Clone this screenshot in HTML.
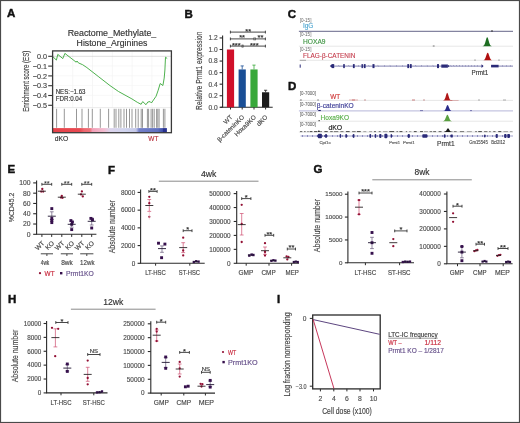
<!DOCTYPE html>
<html><head><meta charset="utf-8"><style>
html,body{margin:0;padding:0;background:#fff;}
svg{display:block;font-family:"Liberation Sans",sans-serif;will-change:transform;}
</style></head><body>
<svg width="520" height="423" viewBox="0 0 520 423">
<rect width="520" height="423" fill="#fff"/>
<rect x="0.5" y="0.5" width="519" height="422" fill="none" stroke="#4a4a4a" stroke-width="1.2"/>
<text x="7.00" y="17.00" font-size="11.5" fill="#111" stroke="#111" stroke-width="0.45" font-weight="bold">A</text>
<text x="112.00" y="36.00" font-size="8.7" fill="#333" stroke="#333" stroke-width="0.15" text-anchor="middle" textLength="88.60" lengthAdjust="spacingAndGlyphs">Reactome_Methylate_</text>
<text x="112.00" y="46.00" font-size="8.7" fill="#333" stroke="#333" stroke-width="0.15" text-anchor="middle" textLength="70.80" lengthAdjust="spacingAndGlyphs">Histone_Arginines</text>
<line x1="72.70" y1="51.50" x2="72.70" y2="107.50" stroke="#f0f0f0" stroke-width="0.6"/>
<line x1="92.50" y1="51.50" x2="92.50" y2="107.50" stroke="#f0f0f0" stroke-width="0.6"/>
<line x1="112.30" y1="51.50" x2="112.30" y2="107.50" stroke="#f0f0f0" stroke-width="0.6"/>
<line x1="132.10" y1="51.50" x2="132.10" y2="107.50" stroke="#f0f0f0" stroke-width="0.6"/>
<line x1="151.90" y1="51.50" x2="151.90" y2="107.50" stroke="#f0f0f0" stroke-width="0.6"/>
<line x1="53.00" y1="66.00" x2="171.00" y2="66.00" stroke="#f4f4f4" stroke-width="0.6"/>
<line x1="53.00" y1="75.80" x2="171.00" y2="75.80" stroke="#f4f4f4" stroke-width="0.6"/>
<line x1="53.00" y1="85.60" x2="171.00" y2="85.60" stroke="#f4f4f4" stroke-width="0.6"/>
<line x1="53.00" y1="95.40" x2="171.00" y2="95.40" stroke="#f4f4f4" stroke-width="0.6"/>
<line x1="53.00" y1="56.30" x2="171.00" y2="56.30" stroke="#c8c8c8" stroke-width="0.6"/>
<polyline points="52.60,56.40 56.40,60.10 57.80,54.40 62.80,58.60 64.90,53.40 76.20,62.20 77.00,61.00 78.40,62.90 82.60,64.70 86.90,67.60 98.20,76.40 110.00,85.60 118.50,91.50 131.90,98.90 137.30,102.30 141.10,104.30 142.70,101.60 146.00,104.70 147.80,102.00 150.10,101.60 151.40,103.00 156.10,96.20 158.20,90.20 160.20,83.50 162.90,85.50 164.20,78.10 164.90,70.00 165.50,57.20 167.20,58.50" fill="none" stroke="#3aa83a" stroke-width="0.9"/>
<line x1="48.20" y1="56.30" x2="52.60" y2="56.30" stroke="#333" stroke-width="1.1"/>
<text x="47.00" y="58.90" font-size="7.2" fill="#444" stroke="#444" stroke-width="0.15" text-anchor="end">0.0</text>
<line x1="48.20" y1="66.10" x2="52.60" y2="66.10" stroke="#333" stroke-width="1.1"/>
<text x="47.00" y="68.70" font-size="7.2" fill="#444" stroke="#444" stroke-width="0.15" text-anchor="end">−0.1</text>
<line x1="48.20" y1="75.90" x2="52.60" y2="75.90" stroke="#333" stroke-width="1.1"/>
<text x="47.00" y="78.50" font-size="7.2" fill="#444" stroke="#444" stroke-width="0.15" text-anchor="end">−0.2</text>
<line x1="48.20" y1="85.70" x2="52.60" y2="85.70" stroke="#333" stroke-width="1.1"/>
<text x="47.00" y="88.30" font-size="7.2" fill="#444" stroke="#444" stroke-width="0.15" text-anchor="end">−0.3</text>
<line x1="48.20" y1="95.50" x2="52.60" y2="95.50" stroke="#333" stroke-width="1.1"/>
<text x="47.00" y="98.10" font-size="7.2" fill="#444" stroke="#444" stroke-width="0.15" text-anchor="end">−0.4</text>
<line x1="48.20" y1="105.30" x2="52.60" y2="105.30" stroke="#333" stroke-width="1.1"/>
<text x="47.00" y="107.90" font-size="7.2" fill="#444" stroke="#444" stroke-width="0.15" text-anchor="end">−0.5</text>
<text x="28.60" y="81.30" font-size="8.6" fill="#444" stroke="#444" stroke-width="0.15" text-anchor="middle" textLength="61.00" lengthAdjust="spacingAndGlyphs" transform="rotate(-90 28.60 81.30)">Enrichment score (ES)</text>
<text x="55.70" y="93.70" font-size="6.9" fill="#333" stroke="#333" stroke-width="0.15" textLength="29.80" lengthAdjust="spacingAndGlyphs">NES:−1.63</text>
<text x="55.70" y="100.90" font-size="6.9" fill="#333" stroke="#333" stroke-width="0.15" textLength="26.50" lengthAdjust="spacingAndGlyphs">FDR:0.04</text>
<line x1="53.00" y1="107.60" x2="171.00" y2="107.60" stroke="#d8d8d8" stroke-width="0.5"/>
<line x1="56.60" y1="108.80" x2="56.60" y2="127.80" stroke="#6a6a6a" stroke-width="0.7"/>
<line x1="64.30" y1="108.80" x2="64.30" y2="127.80" stroke="#6a6a6a" stroke-width="0.7"/>
<line x1="76.50" y1="108.80" x2="76.50" y2="127.80" stroke="#6a6a6a" stroke-width="0.7"/>
<line x1="82.00" y1="108.80" x2="82.00" y2="127.80" stroke="#6a6a6a" stroke-width="0.7"/>
<line x1="88.40" y1="108.80" x2="88.40" y2="127.80" stroke="#6a6a6a" stroke-width="0.7"/>
<line x1="92.30" y1="108.80" x2="92.30" y2="127.80" stroke="#6a6a6a" stroke-width="0.7"/>
<line x1="100.30" y1="108.80" x2="100.30" y2="127.80" stroke="#6a6a6a" stroke-width="0.7"/>
<line x1="108.60" y1="108.80" x2="108.60" y2="127.80" stroke="#6a6a6a" stroke-width="0.7"/>
<line x1="114.20" y1="108.80" x2="114.20" y2="127.80" stroke="#6a6a6a" stroke-width="0.7"/>
<line x1="116.00" y1="108.80" x2="116.00" y2="127.80" stroke="#6a6a6a" stroke-width="0.7"/>
<line x1="118.80" y1="108.80" x2="118.80" y2="127.80" stroke="#6a6a6a" stroke-width="0.7"/>
<line x1="120.90" y1="108.80" x2="120.90" y2="127.80" stroke="#6a6a6a" stroke-width="0.7"/>
<line x1="124.00" y1="108.80" x2="124.00" y2="127.80" stroke="#6a6a6a" stroke-width="0.7"/>
<line x1="126.50" y1="108.80" x2="126.50" y2="127.80" stroke="#6a6a6a" stroke-width="0.7"/>
<line x1="129.50" y1="108.80" x2="129.50" y2="127.80" stroke="#6a6a6a" stroke-width="0.7"/>
<line x1="132.00" y1="108.80" x2="132.00" y2="127.80" stroke="#6a6a6a" stroke-width="0.7"/>
<line x1="135.70" y1="108.80" x2="135.70" y2="127.80" stroke="#6a6a6a" stroke-width="0.7"/>
<line x1="138.20" y1="108.80" x2="138.20" y2="127.80" stroke="#6a6a6a" stroke-width="0.7"/>
<line x1="141.20" y1="108.80" x2="141.20" y2="127.80" stroke="#6a6a6a" stroke-width="0.7"/>
<line x1="142.50" y1="108.80" x2="142.50" y2="127.80" stroke="#6a6a6a" stroke-width="0.7"/>
<line x1="147.40" y1="108.80" x2="147.40" y2="127.80" stroke="#6a6a6a" stroke-width="0.7"/>
<line x1="148.60" y1="108.80" x2="148.60" y2="127.80" stroke="#6a6a6a" stroke-width="0.7"/>
<line x1="151.10" y1="108.80" x2="151.10" y2="127.80" stroke="#6a6a6a" stroke-width="0.7"/>
<line x1="152.60" y1="108.80" x2="152.60" y2="127.80" stroke="#6a6a6a" stroke-width="0.7"/>
<line x1="154.20" y1="108.80" x2="154.20" y2="127.80" stroke="#6a6a6a" stroke-width="0.7"/>
<line x1="156.60" y1="108.80" x2="156.60" y2="127.80" stroke="#6a6a6a" stroke-width="0.7"/>
<line x1="157.80" y1="108.80" x2="157.80" y2="127.80" stroke="#6a6a6a" stroke-width="0.7"/>
<line x1="159.10" y1="108.80" x2="159.10" y2="127.80" stroke="#6a6a6a" stroke-width="0.7"/>
<line x1="163.40" y1="108.80" x2="163.40" y2="127.80" stroke="#6a6a6a" stroke-width="0.7"/>
<line x1="164.90" y1="108.80" x2="164.90" y2="127.80" stroke="#6a6a6a" stroke-width="0.7"/>
<defs><linearGradient id="gA" x1="0" x2="1" y1="0" y2="0"><stop offset="0.000" stop-color="#e6424a"/><stop offset="0.240" stop-color="#e84a52"/><stop offset="0.275" stop-color="#ec6870"/><stop offset="0.327" stop-color="#ee7078"/><stop offset="0.349" stop-color="#f2a0b8"/><stop offset="0.450" stop-color="#f2bcd0"/><stop offset="0.502" stop-color="#dcd4ec"/><stop offset="0.633" stop-color="#d0d4ee"/><stop offset="0.730" stop-color="#c4c8e8"/><stop offset="0.756" stop-color="#7480c8"/><stop offset="0.922" stop-color="#6070c0"/><stop offset="0.962" stop-color="#4050a8"/><stop offset="0.970" stop-color="#283090"/><stop offset="1.000" stop-color="#283090"/></linearGradient></defs>
<rect x="52.60" y="128.10" width="114.30" height="4.30" fill="url(#gA)"/>
<rect x="52.6" y="50.9" width="118.8" height="81.8" fill="none" stroke="#3a3a3a" stroke-width="1.3"/>
<text x="54.80" y="141.20" font-size="7.3" fill="#333" stroke="#333" stroke-width="0.15" textLength="13.50" lengthAdjust="spacingAndGlyphs">dKO</text>
<text x="148.30" y="141.20" font-size="7.3" fill="#b8303c" stroke="#b8303c" stroke-width="0.15" textLength="10.10" lengthAdjust="spacingAndGlyphs">WT</text>
<text x="184.60" y="17.70" font-size="11.5" fill="#111" stroke="#111" stroke-width="0.45" font-weight="bold">B</text>
<line x1="222.60" y1="35.50" x2="222.60" y2="107.30" stroke="#2a2a2a" stroke-width="1.1"/>
<line x1="219.60" y1="107.30" x2="222.60" y2="107.30" stroke="#2a2a2a" stroke-width="1.1"/>
<text x="217.60" y="109.68" font-size="6.6" fill="#4e4e4e" stroke="#4e4e4e" stroke-width="0.15" text-anchor="end">0.0</text>
<line x1="219.60" y1="95.74" x2="222.60" y2="95.74" stroke="#2a2a2a" stroke-width="1.1"/>
<text x="217.60" y="98.12" font-size="6.6" fill="#4e4e4e" stroke="#4e4e4e" stroke-width="0.15" text-anchor="end">0.2</text>
<line x1="219.60" y1="84.18" x2="222.60" y2="84.18" stroke="#2a2a2a" stroke-width="1.1"/>
<text x="217.60" y="86.56" font-size="6.6" fill="#4e4e4e" stroke="#4e4e4e" stroke-width="0.15" text-anchor="end">0.4</text>
<line x1="219.60" y1="72.62" x2="222.60" y2="72.62" stroke="#2a2a2a" stroke-width="1.1"/>
<text x="217.60" y="75.00" font-size="6.6" fill="#4e4e4e" stroke="#4e4e4e" stroke-width="0.15" text-anchor="end">0.6</text>
<line x1="219.60" y1="61.06" x2="222.60" y2="61.06" stroke="#2a2a2a" stroke-width="1.1"/>
<text x="217.60" y="63.44" font-size="6.6" fill="#4e4e4e" stroke="#4e4e4e" stroke-width="0.15" text-anchor="end">0.8</text>
<line x1="219.60" y1="49.50" x2="222.60" y2="49.50" stroke="#2a2a2a" stroke-width="1.1"/>
<text x="217.60" y="51.88" font-size="6.6" fill="#4e4e4e" stroke="#4e4e4e" stroke-width="0.15" text-anchor="end">1.0</text>
<line x1="219.60" y1="37.94" x2="222.60" y2="37.94" stroke="#2a2a2a" stroke-width="1.1"/>
<text x="217.60" y="40.32" font-size="6.6" fill="#4e4e4e" stroke="#4e4e4e" stroke-width="0.15" text-anchor="end">1.2</text>
<text x="202.00" y="70.70" font-size="8.2" fill="#444" stroke="#444" stroke-width="0.15" text-anchor="middle" textLength="78.50" lengthAdjust="spacingAndGlyphs" transform="rotate(-90 202.00 70.70)">Relative Prmt1 expression</text>
<line x1="220.50" y1="107.30" x2="272.70" y2="107.30" stroke="#2a2a2a" stroke-width="1.1"/>
<rect x="226.90" y="49.50" width="7.20" height="57.80" fill="#d0102a"/>
<line x1="230.50" y1="107.30" x2="230.50" y2="109.50" stroke="#2a2a2a" stroke-width="1"/>
<line x1="242.20" y1="65.92" x2="242.20" y2="69.44" stroke="#1a4f96" stroke-width="0.8"/>
<line x1="240.60" y1="65.92" x2="243.80" y2="65.92" stroke="#1a4f96" stroke-width="0.8"/>
<rect x="238.60" y="69.44" width="7.20" height="37.86" fill="#1a4f96"/>
<line x1="242.20" y1="107.30" x2="242.20" y2="109.50" stroke="#2a2a2a" stroke-width="1"/>
<line x1="254.00" y1="65.11" x2="254.00" y2="69.44" stroke="#38a83a" stroke-width="0.8"/>
<line x1="252.40" y1="65.11" x2="255.60" y2="65.11" stroke="#38a83a" stroke-width="0.8"/>
<rect x="250.40" y="69.44" width="7.20" height="37.86" fill="#38a83a"/>
<line x1="254.00" y1="107.30" x2="254.00" y2="109.50" stroke="#2a2a2a" stroke-width="1"/>
<line x1="265.60" y1="90.25" x2="265.60" y2="92.27" stroke="#1c1c1c" stroke-width="0.8"/>
<line x1="264.00" y1="90.25" x2="267.20" y2="90.25" stroke="#1c1c1c" stroke-width="0.8"/>
<rect x="262.00" y="92.27" width="7.20" height="15.03" fill="#1c1c1c"/>
<line x1="265.60" y1="107.30" x2="265.60" y2="109.50" stroke="#2a2a2a" stroke-width="1"/>
<line x1="230.40" y1="32.10" x2="265.40" y2="32.10" stroke="#333" stroke-width="0.9"/>
<line x1="230.40" y1="30.70" x2="230.40" y2="33.50" stroke="#333" stroke-width="0.9"/>
<line x1="265.40" y1="30.70" x2="265.40" y2="33.50" stroke="#333" stroke-width="0.9"/>
<text x="248.20" y="33.50" font-size="7.4" fill="#333" stroke="#333" stroke-width="0.05" text-anchor="middle" font-weight="bold">**</text>
<line x1="230.40" y1="38.90" x2="254.00" y2="38.90" stroke="#333" stroke-width="0.9"/>
<line x1="230.40" y1="37.50" x2="230.40" y2="40.30" stroke="#333" stroke-width="0.9"/>
<line x1="254.00" y1="37.50" x2="254.00" y2="40.30" stroke="#333" stroke-width="0.9"/>
<line x1="255.20" y1="38.90" x2="265.40" y2="38.90" stroke="#333" stroke-width="0.9"/>
<line x1="255.20" y1="37.50" x2="255.20" y2="40.30" stroke="#333" stroke-width="0.9"/>
<line x1="265.40" y1="37.50" x2="265.40" y2="40.30" stroke="#333" stroke-width="0.9"/>
<text x="242.10" y="40.30" font-size="7.4" fill="#333" stroke="#333" stroke-width="0.05" text-anchor="middle" font-weight="bold">**</text>
<text x="260.50" y="40.30" font-size="7.4" fill="#333" stroke="#333" stroke-width="0.05" text-anchor="middle" font-weight="bold">**</text>
<line x1="230.40" y1="46.10" x2="242.10" y2="46.10" stroke="#333" stroke-width="0.9"/>
<line x1="230.40" y1="44.70" x2="230.40" y2="47.50" stroke="#333" stroke-width="0.9"/>
<line x1="242.10" y1="44.70" x2="242.10" y2="47.50" stroke="#333" stroke-width="0.9"/>
<line x1="243.00" y1="46.10" x2="265.40" y2="46.10" stroke="#333" stroke-width="0.9"/>
<line x1="243.00" y1="44.70" x2="243.00" y2="47.50" stroke="#333" stroke-width="0.9"/>
<line x1="265.40" y1="44.70" x2="265.40" y2="47.50" stroke="#333" stroke-width="0.9"/>
<text x="236.20" y="47.50" font-size="7.4" fill="#333" stroke="#333" stroke-width="0.05" text-anchor="middle" font-weight="bold">***</text>
<text x="254.20" y="47.50" font-size="7.4" fill="#333" stroke="#333" stroke-width="0.05" text-anchor="middle" font-weight="bold">***</text>
<text x="232.90" y="117.50" font-size="6.3" fill="#444" stroke="#444" stroke-width="0.15" text-anchor="end" transform="rotate(-45 232.90 117.50)">WT</text>
<text x="244.60" y="117.50" font-size="6.3" fill="#444" stroke="#444" stroke-width="0.15" text-anchor="end" transform="rotate(-45 244.60 117.50)">β-cateninKO</text>
<text x="256.40" y="117.50" font-size="6.3" fill="#444" stroke="#444" stroke-width="0.15" text-anchor="end" transform="rotate(-45 256.40 117.50)">Hoxa9KO</text>
<text x="268.00" y="117.50" font-size="6.3" fill="#444" stroke="#444" stroke-width="0.15" text-anchor="end" transform="rotate(-45 268.00 117.50)">dKO</text>
<text x="287.80" y="17.60" font-size="11.5" fill="#111" stroke="#111" stroke-width="0.45" font-weight="bold">C</text>
<text x="299.80" y="21.60" font-size="4.7" fill="#666" textLength="11.60" lengthAdjust="spacingAndGlyphs">[0-15]</text>
<text x="302.90" y="28.30" font-size="6.4" fill="#4aa4d0" stroke="#4aa4d0" stroke-width="0.12" textLength="10.40" lengthAdjust="spacingAndGlyphs">IgG</text>
<line x1="298.90" y1="31.30" x2="513.00" y2="31.30" stroke="#55557a" stroke-width="0.9"/>
<text x="299.80" y="36.20" font-size="4.7" fill="#666" textLength="11.60" lengthAdjust="spacingAndGlyphs">[0-15]</text>
<text x="303.00" y="44.30" font-size="6.6" fill="#3a923e" stroke="#3a923e" stroke-width="0.12" textLength="22.50" lengthAdjust="spacingAndGlyphs">HOXA9</text>
<line x1="298.90" y1="46.20" x2="513.00" y2="46.20" stroke="#dcdcdc" stroke-width="0.7"/>
<text x="299.80" y="50.60" font-size="4.7" fill="#666" textLength="11.60" lengthAdjust="spacingAndGlyphs">[0-15]</text>
<text x="303.00" y="58.20" font-size="6.6" fill="#c43c4c" stroke="#c43c4c" stroke-width="0.12" textLength="52.40" lengthAdjust="spacingAndGlyphs">FLAG-β-CATENIN</text>
<line x1="298.90" y1="60.30" x2="513.00" y2="60.30" stroke="#dcdcdc" stroke-width="0.7"/>
<line x1="300.00" y1="60.30" x2="306.00" y2="60.30" stroke="#777" stroke-width="0.6"/>
<path d="M482.14,46.17 L482.56,46.13 L482.98,46.04 L483.40,45.86 L483.83,45.52 L484.25,44.95 L484.67,44.09 L485.09,42.92 L485.51,41.48 L485.94,39.94 L486.36,38.54 L486.78,37.56 L487.20,37.20 L487.62,37.56 L488.04,38.54 L488.46,39.94 L488.89,41.48 L489.31,42.92 L489.73,44.09 L490.15,44.95 L490.57,45.52 L491.00,45.86 L491.42,46.04 L491.84,46.13 L492.26,46.17 L492.26,46.20 L482.14,46.20 Z" fill="#1e6e22"/>
<path d="M482.64,60.28 L483.06,60.24 L483.48,60.17 L483.90,60.01 L484.33,59.72 L484.75,59.25 L485.17,58.52 L485.59,57.53 L486.01,56.31 L486.44,55.01 L486.86,53.83 L487.28,53.00 L487.70,52.70 L488.12,53.00 L488.54,53.83 L488.96,55.01 L489.39,56.31 L489.81,57.53 L490.23,58.52 L490.65,59.25 L491.07,59.72 L491.50,60.01 L491.92,60.17 L492.34,60.24 L492.76,60.28 L492.76,60.30 L482.64,60.30 Z" fill="#b01010"/>
<line x1="491.00" y1="31.00" x2="493.00" y2="31.00" stroke="#333" stroke-width="1"/>
<line x1="432.80" y1="46.00" x2="434.60" y2="46.00" stroke="#666" stroke-width="0.9"/>
<line x1="474.00" y1="60.10" x2="476.00" y2="60.10" stroke="#999" stroke-width="0.8"/>
<line x1="498.00" y1="60.10" x2="500.00" y2="60.10" stroke="#999" stroke-width="0.8"/>
<line x1="300.20" y1="64.50" x2="300.20" y2="67.70" stroke="#2a2a78" stroke-width="1"/>
<line x1="331.30" y1="66.10" x2="483.00" y2="66.10" stroke="#2a2a78" stroke-width="0.6"/>
<line x1="491.00" y1="66.10" x2="513.00" y2="66.10" stroke="#2a2a78" stroke-width="0.6"/>
<rect x="331.80" y="64.10" width="2.40" height="4.00" fill="#2a2a78"/>
<rect x="343.20" y="64.10" width="1.60" height="4.00" fill="#2a2a78"/>
<rect x="352.90" y="64.10" width="1.80" height="4.00" fill="#2a2a78"/>
<rect x="361.50" y="64.10" width="1.40" height="4.00" fill="#2a2a78"/>
<rect x="363.80" y="64.10" width="1.80" height="4.00" fill="#2a2a78"/>
<rect x="372.50" y="64.10" width="2.00" height="4.00" fill="#2a2a78"/>
<rect x="407.30" y="64.10" width="1.70" height="4.00" fill="#2a2a78"/>
<rect x="409.80" y="64.10" width="1.90" height="4.00" fill="#2a2a78"/>
<rect x="437.00" y="64.10" width="2.00" height="4.00" fill="#2a2a78"/>
<rect x="441.30" y="64.50" width="6.40" height="3.20" fill="#2a2a78"/>
<rect x="491.10" y="64.80" width="7.50" height="2.60" fill="#2a2a78"/>
<path d="M329.8,66.1 L332.2,64.1 L332.2,68.1 Z" fill="#2a2a78"/>
<path d="M447.5,64.5 L449.5,66.1 L447.5,67.69999999999999 Z" fill="#2a2a78"/>
<path d="M481.5,64.3 L483.6,66.1 L481.5,67.89999999999999 Z" fill="#2a2a78"/>
<line x1="338.50" y1="65.50" x2="339.30" y2="66.10" stroke="#2a2a78" stroke-width="0.5"/>
<line x1="348.50" y1="65.50" x2="349.30" y2="66.10" stroke="#2a2a78" stroke-width="0.5"/>
<line x1="358.00" y1="65.50" x2="358.80" y2="66.10" stroke="#2a2a78" stroke-width="0.5"/>
<line x1="368.50" y1="65.50" x2="369.30" y2="66.10" stroke="#2a2a78" stroke-width="0.5"/>
<line x1="377.70" y1="65.50" x2="378.50" y2="66.10" stroke="#2a2a78" stroke-width="0.5"/>
<line x1="384.00" y1="65.50" x2="384.80" y2="66.10" stroke="#2a2a78" stroke-width="0.5"/>
<line x1="389.80" y1="65.50" x2="390.60" y2="66.10" stroke="#2a2a78" stroke-width="0.5"/>
<line x1="396.00" y1="65.50" x2="396.80" y2="66.10" stroke="#2a2a78" stroke-width="0.5"/>
<line x1="402.00" y1="65.50" x2="402.80" y2="66.10" stroke="#2a2a78" stroke-width="0.5"/>
<line x1="415.40" y1="65.50" x2="416.20" y2="66.10" stroke="#2a2a78" stroke-width="0.5"/>
<line x1="421.10" y1="65.50" x2="421.90" y2="66.10" stroke="#2a2a78" stroke-width="0.5"/>
<line x1="426.90" y1="65.50" x2="427.70" y2="66.10" stroke="#2a2a78" stroke-width="0.5"/>
<line x1="432.70" y1="65.50" x2="433.50" y2="66.10" stroke="#2a2a78" stroke-width="0.5"/>
<line x1="450.60" y1="65.50" x2="451.40" y2="66.10" stroke="#2a2a78" stroke-width="0.5"/>
<line x1="453.40" y1="65.50" x2="454.20" y2="66.10" stroke="#2a2a78" stroke-width="0.5"/>
<line x1="456.30" y1="65.50" x2="457.10" y2="66.10" stroke="#2a2a78" stroke-width="0.5"/>
<line x1="459.20" y1="65.50" x2="460.00" y2="66.10" stroke="#2a2a78" stroke-width="0.5"/>
<line x1="462.00" y1="65.50" x2="462.80" y2="66.10" stroke="#2a2a78" stroke-width="0.5"/>
<line x1="465.00" y1="65.50" x2="465.80" y2="66.10" stroke="#2a2a78" stroke-width="0.5"/>
<line x1="468.00" y1="65.50" x2="468.80" y2="66.10" stroke="#2a2a78" stroke-width="0.5"/>
<line x1="471.00" y1="65.50" x2="471.80" y2="66.10" stroke="#2a2a78" stroke-width="0.5"/>
<line x1="474.00" y1="65.50" x2="474.80" y2="66.10" stroke="#2a2a78" stroke-width="0.5"/>
<line x1="477.00" y1="65.50" x2="477.80" y2="66.10" stroke="#2a2a78" stroke-width="0.5"/>
<line x1="494.00" y1="65.50" x2="494.80" y2="66.10" stroke="#2a2a78" stroke-width="0.5"/>
<line x1="502.00" y1="65.50" x2="502.80" y2="66.10" stroke="#2a2a78" stroke-width="0.5"/>
<line x1="506.00" y1="65.50" x2="506.80" y2="66.10" stroke="#2a2a78" stroke-width="0.5"/>
<line x1="510.00" y1="65.50" x2="510.80" y2="66.10" stroke="#2a2a78" stroke-width="0.5"/>
<text x="471.50" y="74.70" font-size="6.6" fill="#3a3a3a" stroke="#3a3a3a" stroke-width="0.15" textLength="16.80" lengthAdjust="spacingAndGlyphs">Prmt1</text>
<text x="288.00" y="89.80" font-size="11.5" fill="#111" stroke="#111" stroke-width="0.45" font-weight="bold">D</text>
<text x="299.80" y="95.30" font-size="4.6" fill="#666" stroke="#666" stroke-width="0.05" textLength="16.20" lengthAdjust="spacingAndGlyphs">[0-7000]</text>
<text x="299.80" y="105.70" font-size="4.6" fill="#666" stroke="#666" stroke-width="0.05" textLength="16.20" lengthAdjust="spacingAndGlyphs">[0-7000]</text>
<text x="299.80" y="115.60" font-size="4.6" fill="#666" stroke="#666" stroke-width="0.05" textLength="16.20" lengthAdjust="spacingAndGlyphs">[0-7000]</text>
<text x="299.80" y="126.20" font-size="4.6" fill="#666" stroke="#666" stroke-width="0.05" textLength="16.20" lengthAdjust="spacingAndGlyphs">[0-7000]</text>
<text x="330.20" y="99.10" font-size="6.6" fill="#d03a3a" stroke="#d03a3a" stroke-width="0.15" textLength="10.00" lengthAdjust="spacingAndGlyphs">WT</text>
<text x="316.80" y="108.00" font-size="6.6" fill="#3c3c96" stroke="#3c3c96" stroke-width="0.15" textLength="36.90" lengthAdjust="spacingAndGlyphs">β-cateninKO</text>
<text x="320.60" y="119.50" font-size="6.6" fill="#5ab04a" stroke="#5ab04a" stroke-width="0.15" textLength="28.40" lengthAdjust="spacingAndGlyphs">Hoxa9KO</text>
<text x="328.40" y="129.80" font-size="6.6" fill="#222" stroke="#222" stroke-width="0.15" textLength="13.80" lengthAdjust="spacingAndGlyphs">dKO</text>
<line x1="298.90" y1="100.40" x2="513.00" y2="100.40" stroke="#dcdcdc" stroke-width="0.7"/>
<line x1="298.90" y1="110.90" x2="513.00" y2="110.90" stroke="#9898c8" stroke-width="0.7"/>
<line x1="298.90" y1="121.20" x2="513.00" y2="121.20" stroke="#dcdcdc" stroke-width="0.7"/>
<line x1="298.90" y1="132.00" x2="513.00" y2="132.00" stroke="#d0d0d0" stroke-width="0.7"/>
<line x1="300.00" y1="100.00" x2="301.80" y2="100.00" stroke="#555" stroke-width="0.8"/>
<line x1="317.30" y1="100.00" x2="318.80" y2="100.00" stroke="#555" stroke-width="0.8"/>
<line x1="349.00" y1="100.00" x2="358.00" y2="100.00" stroke="#e0a0a0" stroke-width="0.8"/>
<line x1="352.00" y1="100.00" x2="355.00" y2="100.00" stroke="#c06060" stroke-width="0.8"/>
<line x1="364.00" y1="100.00" x2="366.00" y2="100.00" stroke="#c08080" stroke-width="0.8"/>
<line x1="412.00" y1="100.00" x2="415.00" y2="100.00" stroke="#c06060" stroke-width="0.8"/>
<line x1="423.00" y1="100.00" x2="425.00" y2="100.00" stroke="#c08080" stroke-width="0.8"/>
<line x1="478.00" y1="100.00" x2="480.00" y2="100.00" stroke="#999" stroke-width="0.8"/>
<line x1="503.00" y1="100.00" x2="506.00" y2="100.00" stroke="#999" stroke-width="0.8"/>
<line x1="318.30" y1="110.50" x2="320.80" y2="110.50" stroke="#20206a" stroke-width="1.1"/>
<line x1="420.00" y1="110.60" x2="423.00" y2="110.60" stroke="#6060a0" stroke-width="0.8"/>
<line x1="470.00" y1="110.60" x2="472.00" y2="110.60" stroke="#6060a0" stroke-width="0.8"/>
<line x1="318.50" y1="120.70" x2="319.80" y2="120.70" stroke="#222" stroke-width="1.0"/>
<line x1="300.00" y1="131.60" x2="302.30" y2="131.60" stroke="#555" stroke-width="0.9"/>
<line x1="304.28" y1="131.60" x2="305.48" y2="131.60" stroke="#333" stroke-width="0.9"/>
<line x1="307.39" y1="131.60" x2="308.62" y2="131.60" stroke="#555" stroke-width="0.9"/>
<line x1="309.72" y1="131.60" x2="312.45" y2="131.60" stroke="#333" stroke-width="0.9"/>
<line x1="314.05" y1="131.60" x2="317.26" y2="131.60" stroke="#333" stroke-width="0.9"/>
<line x1="320.32" y1="131.60" x2="321.82" y2="131.60" stroke="#555" stroke-width="0.9"/>
<line x1="324.39" y1="131.60" x2="327.73" y2="131.60" stroke="#333" stroke-width="0.9"/>
<line x1="330.17" y1="131.60" x2="332.76" y2="131.60" stroke="#555" stroke-width="0.9"/>
<line x1="333.87" y1="131.60" x2="338.31" y2="131.60" stroke="#666" stroke-width="0.9"/>
<line x1="340.35" y1="131.60" x2="343.52" y2="131.60" stroke="#666" stroke-width="0.9"/>
<line x1="345.92" y1="131.60" x2="349.65" y2="131.60" stroke="#333" stroke-width="0.9"/>
<line x1="352.10" y1="131.60" x2="355.66" y2="131.60" stroke="#666" stroke-width="0.9"/>
<line x1="356.90" y1="131.60" x2="360.75" y2="131.60" stroke="#333" stroke-width="0.9"/>
<line x1="363.30" y1="131.60" x2="366.28" y2="131.60" stroke="#999" stroke-width="0.9"/>
<line x1="369.22" y1="131.60" x2="372.09" y2="131.60" stroke="#999" stroke-width="0.9"/>
<line x1="373.99" y1="131.60" x2="375.98" y2="131.60" stroke="#555" stroke-width="0.9"/>
<line x1="378.73" y1="131.60" x2="380.71" y2="131.60" stroke="#666" stroke-width="0.9"/>
<line x1="383.02" y1="131.60" x2="387.52" y2="131.60" stroke="#999" stroke-width="0.9"/>
<line x1="389.24" y1="131.60" x2="394.16" y2="131.60" stroke="#333" stroke-width="0.9"/>
<line x1="396.44" y1="131.60" x2="398.10" y2="131.60" stroke="#666" stroke-width="0.9"/>
<line x1="399.48" y1="131.60" x2="402.44" y2="131.60" stroke="#333" stroke-width="0.9"/>
<line x1="405.84" y1="131.60" x2="407.15" y2="131.60" stroke="#666" stroke-width="0.9"/>
<line x1="409.00" y1="131.60" x2="411.40" y2="131.60" stroke="#999" stroke-width="0.9"/>
<line x1="413.85" y1="131.60" x2="416.68" y2="131.60" stroke="#333" stroke-width="0.9"/>
<line x1="420.04" y1="131.60" x2="422.94" y2="131.60" stroke="#333" stroke-width="0.9"/>
<line x1="424.09" y1="131.60" x2="427.89" y2="131.60" stroke="#999" stroke-width="0.9"/>
<line x1="429.61" y1="131.60" x2="432.15" y2="131.60" stroke="#666" stroke-width="0.9"/>
<line x1="433.21" y1="131.60" x2="436.05" y2="131.60" stroke="#555" stroke-width="0.9"/>
<line x1="438.58" y1="131.60" x2="441.55" y2="131.60" stroke="#555" stroke-width="0.9"/>
<line x1="444.47" y1="131.60" x2="445.99" y2="131.60" stroke="#555" stroke-width="0.9"/>
<line x1="447.99" y1="131.60" x2="452.65" y2="131.60" stroke="#999" stroke-width="0.9"/>
<line x1="453.86" y1="131.60" x2="456.65" y2="131.60" stroke="#666" stroke-width="0.9"/>
<line x1="459.86" y1="131.60" x2="464.14" y2="131.60" stroke="#666" stroke-width="0.9"/>
<line x1="466.90" y1="131.60" x2="471.85" y2="131.60" stroke="#999" stroke-width="0.9"/>
<line x1="475.24" y1="131.60" x2="476.85" y2="131.60" stroke="#555" stroke-width="0.9"/>
<line x1="478.23" y1="131.60" x2="481.86" y2="131.60" stroke="#333" stroke-width="0.9"/>
<line x1="484.07" y1="131.60" x2="487.43" y2="131.60" stroke="#666" stroke-width="0.9"/>
<line x1="489.13" y1="131.60" x2="490.72" y2="131.60" stroke="#666" stroke-width="0.9"/>
<line x1="493.24" y1="131.60" x2="495.52" y2="131.60" stroke="#555" stroke-width="0.9"/>
<line x1="498.24" y1="131.60" x2="501.30" y2="131.60" stroke="#333" stroke-width="0.9"/>
<line x1="503.45" y1="131.60" x2="507.93" y2="131.60" stroke="#999" stroke-width="0.9"/>
<line x1="509.92" y1="131.60" x2="512.50" y2="131.60" stroke="#999" stroke-width="0.9"/>
<path d="M442.80,100.38 L443.46,100.28 L444.12,99.96 L444.78,99.08 L445.43,97.38 L446.09,95.07 L446.75,93.15 L447.41,92.80 L448.07,94.25 L448.73,96.57 L449.38,98.56 L450.04,99.72 L450.70,100.00 L451.36,100.06 L452.02,100.11 L452.68,100.15 L453.33,100.19 L453.99,100.22 L454.65,100.24 L455.31,100.27 L455.97,100.29 L456.62,100.30 L457.28,100.32 L457.94,100.33 L458.60,100.34 L458.60,100.40 L442.80,100.40 Z" fill="#b01818"/>
<path d="M442.98,110.98 L443.45,110.94 L443.92,110.85 L444.38,110.64 L444.85,110.23 L445.32,109.54 L445.79,108.54 L446.26,107.32 L446.73,106.12 L447.19,105.26 L447.66,105.01 L448.13,105.44 L448.60,106.43 L449.07,107.66 L449.54,108.84 L450.00,109.76 L450.47,110.37 L450.94,110.71 L451.41,110.88 L451.88,110.96 L452.35,110.99 L452.81,110.99 L453.28,110.99 L453.75,111.00 L454.22,111.00 L454.22,111.00 L442.98,111.00 Z" fill="#2a2a8a"/>
<path d="M442.34,121.18 L442.76,121.15 L443.18,121.09 L443.60,120.96 L444.03,120.72 L444.45,120.31 L444.87,119.70 L445.29,118.87 L445.71,117.84 L446.13,116.75 L446.56,115.75 L446.98,115.05 L447.40,114.80 L447.82,115.05 L448.24,115.75 L448.66,116.75 L449.09,117.84 L449.51,118.87 L449.93,119.70 L450.35,120.31 L450.77,120.72 L451.19,120.96 L451.62,121.09 L452.04,121.15 L452.46,121.18 L452.46,121.20 L442.34,121.20 Z" fill="#5aa040"/>
<path d="M443.60,131.99 L443.97,131.97 L444.33,131.93 L444.70,131.86 L445.07,131.72 L445.43,131.49 L445.80,131.13 L446.17,130.65 L446.53,130.06 L446.90,129.43 L447.27,128.85 L447.63,128.45 L448.00,128.30 L448.37,128.45 L448.73,128.85 L449.10,129.43 L449.47,130.06 L449.83,130.65 L450.20,131.13 L450.57,131.49 L450.93,131.72 L451.30,131.86 L451.67,131.93 L452.03,131.97 L452.40,131.99 L452.40,132.00 L443.60,132.00 Z" fill="#1a1a1a"/>
<path d="M316.92,131.99 L317.08,131.99 L317.25,131.97 L317.41,131.94 L317.58,131.87 L317.74,131.76 L317.91,131.60 L318.07,131.38 L318.24,131.11 L318.40,130.82 L318.57,130.55 L318.73,130.37 L318.90,130.30 L319.06,130.37 L319.23,130.55 L319.39,130.82 L319.56,131.11 L319.72,131.38 L319.89,131.60 L320.05,131.76 L320.22,131.87 L320.38,131.94 L320.55,131.97 L320.71,131.99 L320.88,131.99 L320.88,132.00 L316.92,132.00 Z" fill="#222"/>
<line x1="300.60" y1="136.00" x2="513.00" y2="136.00" stroke="#7a7ab8" stroke-width="0.7"/>
<rect x="318.00" y="133.70" width="3.90" height="4.60" rx="0.8" fill="#2a2a78"/>
<rect x="325.20" y="134.10" width="1.80" height="3.80" rx="0.8" fill="#2a2a78"/>
<rect x="339.60" y="134.10" width="1.60" height="3.80" rx="0.8" fill="#2a2a78"/>
<rect x="345.30" y="134.10" width="1.70" height="3.80" rx="0.8" fill="#2a2a78"/>
<rect x="352.70" y="134.10" width="1.80" height="3.80" rx="0.8" fill="#2a2a78"/>
<rect x="369.40" y="134.10" width="1.80" height="3.80" rx="0.8" fill="#2a2a78"/>
<rect x="374.60" y="134.10" width="1.70" height="3.80" rx="0.8" fill="#2a2a78"/>
<rect x="379.20" y="134.10" width="2.30" height="3.80" rx="0.8" fill="#2a2a78"/>
<rect x="384.40" y="133.80" width="2.90" height="4.40" rx="0.8" fill="#2a2a78"/>
<rect x="390.60" y="134.10" width="1.40" height="3.80" rx="0.8" fill="#2a2a78"/>
<rect x="407.70" y="134.10" width="2.20" height="3.80" rx="0.8" fill="#2a2a78"/>
<rect x="422.30" y="134.20" width="5.10" height="3.60" rx="0.8" fill="#2a2a78"/>
<rect x="443.80" y="134.20" width="1.80" height="3.60" rx="0.8" fill="#2a2a78"/>
<rect x="450.40" y="134.40" width="2.60" height="3.20" rx="0.8" fill="#2a2a78"/>
<rect x="484.00" y="134.40" width="1.60" height="3.20" rx="0.8" fill="#2a2a78"/>
<rect x="495.60" y="134.10" width="2.30" height="3.80" rx="0.8" fill="#2a2a78"/>
<rect x="504.10" y="134.10" width="2.50" height="3.80" rx="0.8" fill="#2a2a78"/>
<rect x="507.20" y="134.10" width="2.80" height="3.80" rx="0.8" fill="#2a2a78"/>
<path d="M316.6,136.0 L318.6,133.8 L318.6,138.2 Z" fill="#2a2a78"/>
<path d="M323.8,136.0 L325.6,134.2 L325.6,137.8 Z" fill="#2a2a78"/>
<line x1="302.00" y1="136.00" x2="303.00" y2="135.10" stroke="#5a5aa0" stroke-width="0.6"/>
<line x1="302.00" y1="136.00" x2="303.00" y2="136.90" stroke="#5a5aa0" stroke-width="0.6"/>
<line x1="307.00" y1="136.00" x2="308.00" y2="135.10" stroke="#5a5aa0" stroke-width="0.6"/>
<line x1="307.00" y1="136.00" x2="308.00" y2="136.90" stroke="#5a5aa0" stroke-width="0.6"/>
<line x1="312.00" y1="136.00" x2="313.00" y2="135.10" stroke="#5a5aa0" stroke-width="0.6"/>
<line x1="312.00" y1="136.00" x2="313.00" y2="136.90" stroke="#5a5aa0" stroke-width="0.6"/>
<line x1="317.00" y1="136.00" x2="318.00" y2="135.10" stroke="#5a5aa0" stroke-width="0.6"/>
<line x1="317.00" y1="136.00" x2="318.00" y2="136.90" stroke="#5a5aa0" stroke-width="0.6"/>
<line x1="322.00" y1="136.00" x2="323.00" y2="135.10" stroke="#5a5aa0" stroke-width="0.6"/>
<line x1="322.00" y1="136.00" x2="323.00" y2="136.90" stroke="#5a5aa0" stroke-width="0.6"/>
<line x1="327.00" y1="136.00" x2="328.00" y2="135.10" stroke="#5a5aa0" stroke-width="0.6"/>
<line x1="327.00" y1="136.00" x2="328.00" y2="136.90" stroke="#5a5aa0" stroke-width="0.6"/>
<line x1="332.00" y1="136.00" x2="333.00" y2="135.10" stroke="#5a5aa0" stroke-width="0.6"/>
<line x1="332.00" y1="136.00" x2="333.00" y2="136.90" stroke="#5a5aa0" stroke-width="0.6"/>
<line x1="337.00" y1="136.00" x2="338.00" y2="135.10" stroke="#5a5aa0" stroke-width="0.6"/>
<line x1="337.00" y1="136.00" x2="338.00" y2="136.90" stroke="#5a5aa0" stroke-width="0.6"/>
<line x1="342.00" y1="136.00" x2="343.00" y2="135.10" stroke="#5a5aa0" stroke-width="0.6"/>
<line x1="342.00" y1="136.00" x2="343.00" y2="136.90" stroke="#5a5aa0" stroke-width="0.6"/>
<line x1="347.00" y1="136.00" x2="348.00" y2="135.10" stroke="#5a5aa0" stroke-width="0.6"/>
<line x1="347.00" y1="136.00" x2="348.00" y2="136.90" stroke="#5a5aa0" stroke-width="0.6"/>
<line x1="352.00" y1="136.00" x2="353.00" y2="135.10" stroke="#5a5aa0" stroke-width="0.6"/>
<line x1="352.00" y1="136.00" x2="353.00" y2="136.90" stroke="#5a5aa0" stroke-width="0.6"/>
<line x1="357.00" y1="136.00" x2="358.00" y2="135.10" stroke="#5a5aa0" stroke-width="0.6"/>
<line x1="357.00" y1="136.00" x2="358.00" y2="136.90" stroke="#5a5aa0" stroke-width="0.6"/>
<line x1="362.00" y1="136.00" x2="363.00" y2="135.10" stroke="#5a5aa0" stroke-width="0.6"/>
<line x1="362.00" y1="136.00" x2="363.00" y2="136.90" stroke="#5a5aa0" stroke-width="0.6"/>
<line x1="367.00" y1="136.00" x2="368.00" y2="135.10" stroke="#5a5aa0" stroke-width="0.6"/>
<line x1="367.00" y1="136.00" x2="368.00" y2="136.90" stroke="#5a5aa0" stroke-width="0.6"/>
<line x1="372.00" y1="136.00" x2="373.00" y2="135.10" stroke="#5a5aa0" stroke-width="0.6"/>
<line x1="372.00" y1="136.00" x2="373.00" y2="136.90" stroke="#5a5aa0" stroke-width="0.6"/>
<line x1="377.00" y1="136.00" x2="378.00" y2="135.10" stroke="#5a5aa0" stroke-width="0.6"/>
<line x1="377.00" y1="136.00" x2="378.00" y2="136.90" stroke="#5a5aa0" stroke-width="0.6"/>
<line x1="382.00" y1="136.00" x2="383.00" y2="135.10" stroke="#5a5aa0" stroke-width="0.6"/>
<line x1="382.00" y1="136.00" x2="383.00" y2="136.90" stroke="#5a5aa0" stroke-width="0.6"/>
<line x1="387.00" y1="136.00" x2="388.00" y2="135.10" stroke="#5a5aa0" stroke-width="0.6"/>
<line x1="387.00" y1="136.00" x2="388.00" y2="136.90" stroke="#5a5aa0" stroke-width="0.6"/>
<line x1="392.00" y1="136.00" x2="393.00" y2="135.10" stroke="#5a5aa0" stroke-width="0.6"/>
<line x1="392.00" y1="136.00" x2="393.00" y2="136.90" stroke="#5a5aa0" stroke-width="0.6"/>
<line x1="397.00" y1="136.00" x2="398.00" y2="135.10" stroke="#5a5aa0" stroke-width="0.6"/>
<line x1="397.00" y1="136.00" x2="398.00" y2="136.90" stroke="#5a5aa0" stroke-width="0.6"/>
<line x1="402.00" y1="136.00" x2="403.00" y2="135.10" stroke="#5a5aa0" stroke-width="0.6"/>
<line x1="402.00" y1="136.00" x2="403.00" y2="136.90" stroke="#5a5aa0" stroke-width="0.6"/>
<line x1="407.00" y1="136.00" x2="408.00" y2="135.10" stroke="#5a5aa0" stroke-width="0.6"/>
<line x1="407.00" y1="136.00" x2="408.00" y2="136.90" stroke="#5a5aa0" stroke-width="0.6"/>
<line x1="412.00" y1="136.00" x2="413.00" y2="135.10" stroke="#5a5aa0" stroke-width="0.6"/>
<line x1="412.00" y1="136.00" x2="413.00" y2="136.90" stroke="#5a5aa0" stroke-width="0.6"/>
<line x1="417.00" y1="136.00" x2="418.00" y2="135.10" stroke="#5a5aa0" stroke-width="0.6"/>
<line x1="417.00" y1="136.00" x2="418.00" y2="136.90" stroke="#5a5aa0" stroke-width="0.6"/>
<line x1="422.00" y1="136.00" x2="423.00" y2="135.10" stroke="#5a5aa0" stroke-width="0.6"/>
<line x1="422.00" y1="136.00" x2="423.00" y2="136.90" stroke="#5a5aa0" stroke-width="0.6"/>
<line x1="427.00" y1="136.00" x2="428.00" y2="135.10" stroke="#5a5aa0" stroke-width="0.6"/>
<line x1="427.00" y1="136.00" x2="428.00" y2="136.90" stroke="#5a5aa0" stroke-width="0.6"/>
<line x1="432.00" y1="136.00" x2="433.00" y2="135.10" stroke="#5a5aa0" stroke-width="0.6"/>
<line x1="432.00" y1="136.00" x2="433.00" y2="136.90" stroke="#5a5aa0" stroke-width="0.6"/>
<line x1="437.00" y1="136.00" x2="438.00" y2="135.10" stroke="#5a5aa0" stroke-width="0.6"/>
<line x1="437.00" y1="136.00" x2="438.00" y2="136.90" stroke="#5a5aa0" stroke-width="0.6"/>
<line x1="442.00" y1="136.00" x2="443.00" y2="135.10" stroke="#5a5aa0" stroke-width="0.6"/>
<line x1="442.00" y1="136.00" x2="443.00" y2="136.90" stroke="#5a5aa0" stroke-width="0.6"/>
<line x1="447.00" y1="136.00" x2="448.00" y2="135.10" stroke="#5a5aa0" stroke-width="0.6"/>
<line x1="447.00" y1="136.00" x2="448.00" y2="136.90" stroke="#5a5aa0" stroke-width="0.6"/>
<line x1="452.00" y1="136.00" x2="453.00" y2="135.10" stroke="#5a5aa0" stroke-width="0.6"/>
<line x1="452.00" y1="136.00" x2="453.00" y2="136.90" stroke="#5a5aa0" stroke-width="0.6"/>
<line x1="457.00" y1="136.00" x2="458.00" y2="135.10" stroke="#5a5aa0" stroke-width="0.6"/>
<line x1="457.00" y1="136.00" x2="458.00" y2="136.90" stroke="#5a5aa0" stroke-width="0.6"/>
<line x1="462.00" y1="136.00" x2="463.00" y2="135.10" stroke="#5a5aa0" stroke-width="0.6"/>
<line x1="462.00" y1="136.00" x2="463.00" y2="136.90" stroke="#5a5aa0" stroke-width="0.6"/>
<line x1="467.00" y1="136.00" x2="468.00" y2="135.10" stroke="#5a5aa0" stroke-width="0.6"/>
<line x1="467.00" y1="136.00" x2="468.00" y2="136.90" stroke="#5a5aa0" stroke-width="0.6"/>
<line x1="472.00" y1="136.00" x2="473.00" y2="135.10" stroke="#5a5aa0" stroke-width="0.6"/>
<line x1="472.00" y1="136.00" x2="473.00" y2="136.90" stroke="#5a5aa0" stroke-width="0.6"/>
<line x1="477.00" y1="136.00" x2="478.00" y2="135.10" stroke="#5a5aa0" stroke-width="0.6"/>
<line x1="477.00" y1="136.00" x2="478.00" y2="136.90" stroke="#5a5aa0" stroke-width="0.6"/>
<line x1="482.00" y1="136.00" x2="483.00" y2="135.10" stroke="#5a5aa0" stroke-width="0.6"/>
<line x1="482.00" y1="136.00" x2="483.00" y2="136.90" stroke="#5a5aa0" stroke-width="0.6"/>
<line x1="487.00" y1="136.00" x2="488.00" y2="135.10" stroke="#5a5aa0" stroke-width="0.6"/>
<line x1="487.00" y1="136.00" x2="488.00" y2="136.90" stroke="#5a5aa0" stroke-width="0.6"/>
<line x1="492.00" y1="136.00" x2="493.00" y2="135.10" stroke="#5a5aa0" stroke-width="0.6"/>
<line x1="492.00" y1="136.00" x2="493.00" y2="136.90" stroke="#5a5aa0" stroke-width="0.6"/>
<line x1="497.00" y1="136.00" x2="498.00" y2="135.10" stroke="#5a5aa0" stroke-width="0.6"/>
<line x1="497.00" y1="136.00" x2="498.00" y2="136.90" stroke="#5a5aa0" stroke-width="0.6"/>
<line x1="502.00" y1="136.00" x2="503.00" y2="135.10" stroke="#5a5aa0" stroke-width="0.6"/>
<line x1="502.00" y1="136.00" x2="503.00" y2="136.90" stroke="#5a5aa0" stroke-width="0.6"/>
<line x1="507.00" y1="136.00" x2="508.00" y2="135.10" stroke="#5a5aa0" stroke-width="0.6"/>
<line x1="507.00" y1="136.00" x2="508.00" y2="136.90" stroke="#5a5aa0" stroke-width="0.6"/>
<text x="319.40" y="143.80" font-size="4.4" fill="#555" stroke="#555" stroke-width="0.15" textLength="11.20" lengthAdjust="spacingAndGlyphs">Cpt1c</text>
<text x="389.20" y="143.80" font-size="4.4" fill="#555" stroke="#555" stroke-width="0.15" textLength="10.80" lengthAdjust="spacingAndGlyphs">Prmt1</text>
<text x="403.00" y="143.80" font-size="4.4" fill="#555" stroke="#555" stroke-width="0.15" textLength="11.60" lengthAdjust="spacingAndGlyphs">Prmt1</text>
<text x="437.00" y="146.00" font-size="7.0" fill="#3a3a3a" stroke="#3a3a3a" stroke-width="0.15" textLength="17.60" lengthAdjust="spacingAndGlyphs">Prmt1</text>
<text x="469.20" y="143.80" font-size="4.6" fill="#555" stroke="#555" stroke-width="0.15" textLength="18.60" lengthAdjust="spacingAndGlyphs">Gm15545</text>
<text x="491.20" y="143.80" font-size="4.6" fill="#555" stroke="#555" stroke-width="0.15" textLength="14.00" lengthAdjust="spacingAndGlyphs">Bcl2l12</text>
<text x="7.60" y="172.60" font-size="11.5" fill="#111" stroke="#111" stroke-width="0.45" font-weight="bold">E</text>
<line x1="36.60" y1="180.40" x2="36.60" y2="234.30" stroke="#2a2a2a" stroke-width="1.1"/>
<line x1="33.20" y1="234.30" x2="36.60" y2="234.30" stroke="#2a2a2a" stroke-width="1.1"/>
<text x="30.60" y="236.75" font-size="6.8" fill="#4e4e4e" stroke="#4e4e4e" stroke-width="0.15" text-anchor="end">0</text>
<line x1="33.20" y1="224.02" x2="36.60" y2="224.02" stroke="#2a2a2a" stroke-width="1.1"/>
<text x="30.60" y="226.47" font-size="6.8" fill="#4e4e4e" stroke="#4e4e4e" stroke-width="0.15" text-anchor="end">20</text>
<line x1="33.20" y1="213.74" x2="36.60" y2="213.74" stroke="#2a2a2a" stroke-width="1.1"/>
<text x="30.60" y="216.19" font-size="6.8" fill="#4e4e4e" stroke="#4e4e4e" stroke-width="0.15" text-anchor="end">40</text>
<line x1="33.20" y1="203.46" x2="36.60" y2="203.46" stroke="#2a2a2a" stroke-width="1.1"/>
<text x="30.60" y="205.91" font-size="6.8" fill="#4e4e4e" stroke="#4e4e4e" stroke-width="0.15" text-anchor="end">60</text>
<line x1="33.20" y1="193.18" x2="36.60" y2="193.18" stroke="#2a2a2a" stroke-width="1.1"/>
<text x="30.60" y="195.63" font-size="6.8" fill="#4e4e4e" stroke="#4e4e4e" stroke-width="0.15" text-anchor="end">80</text>
<line x1="33.20" y1="182.90" x2="36.60" y2="182.90" stroke="#2a2a2a" stroke-width="1.1"/>
<text x="30.60" y="185.35" font-size="6.8" fill="#4e4e4e" stroke="#4e4e4e" stroke-width="0.15" text-anchor="end">100</text>
<line x1="36.00" y1="234.30" x2="96.40" y2="234.30" stroke="#2a2a2a" stroke-width="1.1"/>
<line x1="41.90" y1="234.30" x2="41.90" y2="236.90" stroke="#2a2a2a" stroke-width="1"/>
<line x1="51.70" y1="234.30" x2="51.70" y2="236.90" stroke="#2a2a2a" stroke-width="1"/>
<line x1="61.80" y1="234.30" x2="61.80" y2="236.90" stroke="#2a2a2a" stroke-width="1"/>
<line x1="71.70" y1="234.30" x2="71.70" y2="236.90" stroke="#2a2a2a" stroke-width="1"/>
<line x1="81.80" y1="234.30" x2="81.80" y2="236.90" stroke="#2a2a2a" stroke-width="1"/>
<line x1="91.70" y1="234.30" x2="91.70" y2="236.90" stroke="#2a2a2a" stroke-width="1"/>
<text x="14.40" y="207.50" font-size="8.0" fill="#444" stroke="#444" stroke-width="0.15" text-anchor="middle" textLength="29.50" lengthAdjust="spacingAndGlyphs" transform="rotate(-90 14.40 207.50)">%CD45.2</text>
<line x1="41.90" y1="184.30" x2="51.70" y2="184.30" stroke="#333" stroke-width="0.9"/>
<line x1="41.90" y1="182.90" x2="41.90" y2="185.70" stroke="#333" stroke-width="0.9"/>
<line x1="51.70" y1="182.90" x2="51.70" y2="185.70" stroke="#333" stroke-width="0.9"/>
<text x="46.80" y="185.70" font-size="7.4" fill="#333" stroke="#333" stroke-width="0.05" text-anchor="middle">**</text>
<line x1="61.80" y1="184.30" x2="71.70" y2="184.30" stroke="#333" stroke-width="0.9"/>
<line x1="61.80" y1="182.90" x2="61.80" y2="185.70" stroke="#333" stroke-width="0.9"/>
<line x1="71.70" y1="182.90" x2="71.70" y2="185.70" stroke="#333" stroke-width="0.9"/>
<text x="66.75" y="185.70" font-size="7.4" fill="#333" stroke="#333" stroke-width="0.05" text-anchor="middle">**</text>
<line x1="81.80" y1="184.30" x2="91.70" y2="184.30" stroke="#333" stroke-width="0.9"/>
<line x1="81.80" y1="182.90" x2="81.80" y2="185.70" stroke="#333" stroke-width="0.9"/>
<line x1="91.70" y1="182.90" x2="91.70" y2="185.70" stroke="#333" stroke-width="0.9"/>
<text x="86.75" y="185.70" font-size="7.4" fill="#333" stroke="#333" stroke-width="0.05" text-anchor="middle">**</text>
<circle cx="42.30" cy="189.00" r="1.15" fill="#921034"/>
<circle cx="41.20" cy="191.60" r="1.15" fill="#921034"/>
<circle cx="43.20" cy="191.60" r="1.15" fill="#921034"/>
<line x1="37.90" y1="191.20" x2="45.90" y2="191.20" stroke="#2a2226" stroke-width="0.9"/>
<line x1="51.80" y1="211.80" x2="51.80" y2="219.60" stroke="#665878" stroke-width="0.7"/>
<line x1="49.90" y1="211.80" x2="53.70" y2="211.80" stroke="#665878" stroke-width="0.7"/>
<line x1="49.90" y1="219.60" x2="53.70" y2="219.60" stroke="#665878" stroke-width="0.7"/>
<rect x="50.35" y="207.15" width="2.90" height="2.90" fill="#36104c"/>
<rect x="50.35" y="217.05" width="2.90" height="2.90" fill="#36104c"/>
<rect x="50.35" y="219.15" width="2.90" height="2.90" fill="#36104c"/>
<rect x="50.35" y="221.15" width="2.90" height="2.90" fill="#36104c"/>
<line x1="47.80" y1="216.20" x2="55.80" y2="216.20" stroke="#1e1430" stroke-width="0.9"/>
<circle cx="61.80" cy="196.00" r="1.15" fill="#921034"/>
<circle cx="61.00" cy="197.60" r="1.15" fill="#921034"/>
<circle cx="62.60" cy="197.80" r="1.15" fill="#921034"/>
<line x1="57.80" y1="197.20" x2="65.80" y2="197.20" stroke="#2a2226" stroke-width="0.9"/>
<line x1="71.70" y1="221.40" x2="71.70" y2="227.20" stroke="#665878" stroke-width="0.7"/>
<line x1="69.80" y1="221.40" x2="73.60" y2="221.40" stroke="#665878" stroke-width="0.7"/>
<line x1="69.80" y1="227.20" x2="73.60" y2="227.20" stroke="#665878" stroke-width="0.7"/>
<rect x="69.45" y="219.15" width="2.90" height="2.90" fill="#36104c"/>
<rect x="70.95" y="220.55" width="2.90" height="2.90" fill="#36104c"/>
<rect x="70.25" y="222.85" width="2.90" height="2.90" fill="#36104c"/>
<rect x="70.25" y="228.15" width="2.90" height="2.90" fill="#36104c"/>
<line x1="67.70" y1="224.30" x2="75.70" y2="224.30" stroke="#1e1430" stroke-width="0.9"/>
<circle cx="81.90" cy="191.40" r="1.15" fill="#921034"/>
<circle cx="81.00" cy="194.40" r="1.15" fill="#921034"/>
<circle cx="82.80" cy="196.40" r="1.15" fill="#921034"/>
<line x1="77.80" y1="194.20" x2="85.80" y2="194.20" stroke="#2a2226" stroke-width="0.9"/>
<line x1="91.70" y1="218.00" x2="91.70" y2="225.00" stroke="#665878" stroke-width="0.7"/>
<line x1="89.80" y1="218.00" x2="93.60" y2="218.00" stroke="#665878" stroke-width="0.7"/>
<line x1="89.80" y1="225.00" x2="93.60" y2="225.00" stroke="#665878" stroke-width="0.7"/>
<rect x="89.45" y="216.95" width="2.90" height="2.90" fill="#36104c"/>
<rect x="91.05" y="218.15" width="2.90" height="2.90" fill="#36104c"/>
<rect x="90.25" y="226.55" width="2.90" height="2.90" fill="#36104c"/>
<line x1="87.70" y1="221.30" x2="95.70" y2="221.30" stroke="#1e1430" stroke-width="0.9"/>
<text x="44.90" y="243.60" font-size="6.6" fill="#444" stroke="#444" stroke-width="0.15" text-anchor="end" transform="rotate(-45 44.90 243.60)">WT</text>
<text x="54.70" y="243.60" font-size="6.6" fill="#444" stroke="#444" stroke-width="0.15" text-anchor="end" transform="rotate(-45 54.70 243.60)">KO</text>
<text x="64.80" y="243.60" font-size="6.6" fill="#444" stroke="#444" stroke-width="0.15" text-anchor="end" transform="rotate(-45 64.80 243.60)">WT</text>
<text x="74.70" y="243.60" font-size="6.6" fill="#444" stroke="#444" stroke-width="0.15" text-anchor="end" transform="rotate(-45 74.70 243.60)">KO</text>
<text x="84.80" y="243.60" font-size="6.6" fill="#444" stroke="#444" stroke-width="0.15" text-anchor="end" transform="rotate(-45 84.80 243.60)">WT</text>
<text x="94.70" y="243.60" font-size="6.6" fill="#444" stroke="#444" stroke-width="0.15" text-anchor="end" transform="rotate(-45 94.70 243.60)">KO</text>
<line x1="40.80" y1="253.80" x2="53.00" y2="253.80" stroke="#333" stroke-width="0.9"/>
<line x1="46.90" y1="253.80" x2="46.90" y2="256.00" stroke="#333" stroke-width="0.9"/>
<line x1="60.80" y1="253.80" x2="73.00" y2="253.80" stroke="#333" stroke-width="0.9"/>
<line x1="66.90" y1="253.80" x2="66.90" y2="256.00" stroke="#333" stroke-width="0.9"/>
<line x1="80.20" y1="253.80" x2="93.40" y2="253.80" stroke="#333" stroke-width="0.9"/>
<line x1="86.80" y1="253.80" x2="86.80" y2="256.00" stroke="#333" stroke-width="0.9"/>
<text x="45.00" y="265.40" font-size="6.8" fill="#444" stroke="#444" stroke-width="0.15" text-anchor="middle" textLength="8.60" lengthAdjust="spacingAndGlyphs">4wk</text>
<text x="67.00" y="265.40" font-size="6.8" fill="#444" stroke="#444" stroke-width="0.15" text-anchor="middle" textLength="11.60" lengthAdjust="spacingAndGlyphs">8wk</text>
<text x="87.30" y="265.40" font-size="6.8" fill="#444" stroke="#444" stroke-width="0.15" text-anchor="middle" textLength="14.40" lengthAdjust="spacingAndGlyphs">12wk</text>
<circle cx="40.00" cy="273.20" r="1.1" fill="#921034"/>
<text x="44.60" y="275.60" font-size="6.8" fill="#c8283c" stroke="#c8283c" stroke-width="0.15" textLength="10.00" lengthAdjust="spacingAndGlyphs">WT</text>
<rect x="60.00" y="272.00" width="2.40" height="2.40" fill="#36104c"/>
<text x="66.00" y="275.60" font-size="6.8" fill="#66508a" stroke="#66508a" stroke-width="0.15" textLength="27.80" lengthAdjust="spacingAndGlyphs">Prmt1KO</text>
<text x="108.00" y="174.00" font-size="11.5" fill="#111" stroke="#111" stroke-width="0.45" font-weight="bold">F</text>
<line x1="158.80" y1="181.20" x2="258.50" y2="181.20" stroke="#8a8a8a" stroke-width="1.0"/>
<text x="208.65" y="176.80" font-size="8.6" fill="#333" stroke="#333" stroke-width="0.15" text-anchor="middle" textLength="15.40" lengthAdjust="spacingAndGlyphs">4wk</text>
<line x1="140.60" y1="189.60" x2="140.60" y2="263.30" stroke="#2a2a2a" stroke-width="1.1"/>
<line x1="137.60" y1="263.30" x2="140.60" y2="263.30" stroke="#2a2a2a" stroke-width="1.1"/>
<text x="135.20" y="265.59" font-size="6.35" fill="#4e4e4e" stroke="#4e4e4e" stroke-width="0.15" text-anchor="end">0</text>
<line x1="137.60" y1="245.58" x2="140.60" y2="245.58" stroke="#2a2a2a" stroke-width="1.1"/>
<text x="135.20" y="247.87" font-size="6.35" fill="#4e4e4e" stroke="#4e4e4e" stroke-width="0.15" text-anchor="end">2000</text>
<line x1="137.60" y1="227.86" x2="140.60" y2="227.86" stroke="#2a2a2a" stroke-width="1.1"/>
<text x="135.20" y="230.15" font-size="6.35" fill="#4e4e4e" stroke="#4e4e4e" stroke-width="0.15" text-anchor="end">4000</text>
<line x1="137.60" y1="210.14" x2="140.60" y2="210.14" stroke="#2a2a2a" stroke-width="1.1"/>
<text x="135.20" y="212.43" font-size="6.35" fill="#4e4e4e" stroke="#4e4e4e" stroke-width="0.15" text-anchor="end">6000</text>
<line x1="137.60" y1="192.42" x2="140.60" y2="192.42" stroke="#2a2a2a" stroke-width="1.1"/>
<text x="135.20" y="194.71" font-size="6.35" fill="#4e4e4e" stroke="#4e4e4e" stroke-width="0.15" text-anchor="end">8000</text>
<line x1="140.00" y1="263.30" x2="204.70" y2="263.30" stroke="#2a2a2a" stroke-width="1.1"/>
<line x1="155.60" y1="263.30" x2="155.60" y2="265.70" stroke="#2a2a2a" stroke-width="1"/>
<line x1="189.80" y1="263.30" x2="189.80" y2="265.70" stroke="#2a2a2a" stroke-width="1"/>
<text x="115.00" y="226.70" font-size="8.6" fill="#444" stroke="#444" stroke-width="0.15" text-anchor="middle" textLength="53.30" lengthAdjust="spacingAndGlyphs" transform="rotate(-90 115.00 226.70)">Absolute number</text>
<line x1="148.90" y1="191.40" x2="157.10" y2="191.40" stroke="#333" stroke-width="0.9"/>
<line x1="148.90" y1="190.00" x2="148.90" y2="192.80" stroke="#333" stroke-width="0.9"/>
<line x1="157.10" y1="190.00" x2="157.10" y2="192.80" stroke="#333" stroke-width="0.9"/>
<text x="153.00" y="192.80" font-size="7.4" fill="#333" stroke="#333" stroke-width="0.05" text-anchor="middle" font-weight="bold">**</text>
<line x1="149.30" y1="199.50" x2="149.30" y2="211.40" stroke="#cf4e70" stroke-width="0.7"/>
<line x1="147.40" y1="199.50" x2="151.20" y2="199.50" stroke="#cf4e70" stroke-width="0.7"/>
<line x1="147.40" y1="211.40" x2="151.20" y2="211.40" stroke="#cf4e70" stroke-width="0.7"/>
<circle cx="149.30" cy="196.80" r="1.15" fill="#921034"/>
<circle cx="149.30" cy="203.20" r="1.15" fill="#921034"/>
<circle cx="149.30" cy="216.80" r="1.15" fill="#921034"/>
<line x1="145.30" y1="205.50" x2="153.30" y2="205.50" stroke="#2a2226" stroke-width="0.9"/>
<line x1="149.30" y1="211.40" x2="149.30" y2="219.50" stroke="#f2b0bc" stroke-width="0.6"/>
<line x1="162.00" y1="245.90" x2="162.00" y2="252.30" stroke="#665878" stroke-width="0.7"/>
<line x1="160.10" y1="245.90" x2="163.90" y2="245.90" stroke="#665878" stroke-width="0.7"/>
<line x1="160.10" y1="252.30" x2="163.90" y2="252.30" stroke="#665878" stroke-width="0.7"/>
<rect x="157.05" y="241.75" width="2.90" height="2.90" fill="#36104c"/>
<rect x="163.45" y="242.65" width="2.90" height="2.90" fill="#36104c"/>
<rect x="160.15" y="256.25" width="2.90" height="2.90" fill="#36104c"/>
<line x1="158.00" y1="248.60" x2="166.00" y2="248.60" stroke="#1e1430" stroke-width="0.9"/>
<line x1="183.20" y1="230.70" x2="192.00" y2="230.70" stroke="#333" stroke-width="0.9"/>
<line x1="183.20" y1="229.30" x2="183.20" y2="232.10" stroke="#333" stroke-width="0.9"/>
<line x1="192.00" y1="229.30" x2="192.00" y2="232.10" stroke="#333" stroke-width="0.9"/>
<text x="187.60" y="232.10" font-size="7.4" fill="#333" stroke="#333" stroke-width="0.05" text-anchor="middle" font-weight="bold">*</text>
<line x1="183.20" y1="242.70" x2="183.20" y2="252.60" stroke="#cf4e70" stroke-width="0.7"/>
<line x1="181.30" y1="242.70" x2="185.10" y2="242.70" stroke="#cf4e70" stroke-width="0.7"/>
<line x1="181.30" y1="252.60" x2="185.10" y2="252.60" stroke="#cf4e70" stroke-width="0.7"/>
<circle cx="183.20" cy="237.70" r="1.15" fill="#921034"/>
<circle cx="183.20" cy="250.50" r="1.15" fill="#921034"/>
<circle cx="183.20" cy="255.40" r="1.15" fill="#921034"/>
<line x1="179.20" y1="247.60" x2="187.20" y2="247.60" stroke="#2a2226" stroke-width="0.9"/>
<rect x="192.65" y="260.85" width="2.30" height="2.30" fill="#36104c"/>
<rect x="195.05" y="260.05" width="2.30" height="2.30" fill="#36104c"/>
<rect x="197.45" y="260.45" width="2.30" height="2.30" fill="#36104c"/>
<line x1="193.50" y1="261.60" x2="198.50" y2="261.60" stroke="#1e1430" stroke-width="0.9"/>
<text x="155.50" y="275.20" font-size="6.8" fill="#444" stroke="#444" stroke-width="0.15" text-anchor="middle" textLength="20.70" lengthAdjust="spacingAndGlyphs">LT-HSC</text>
<text x="189.40" y="275.20" font-size="6.8" fill="#444" stroke="#444" stroke-width="0.15" text-anchor="middle" textLength="21.20" lengthAdjust="spacingAndGlyphs">ST-HSC</text>
<line x1="236.70" y1="191.00" x2="236.70" y2="263.30" stroke="#2a2a2a" stroke-width="1.1"/>
<line x1="233.70" y1="263.30" x2="236.70" y2="263.30" stroke="#2a2a2a" stroke-width="1.1"/>
<text x="230.50" y="265.60" font-size="6.4" fill="#4e4e4e" stroke="#4e4e4e" stroke-width="0.15" text-anchor="end">0</text>
<line x1="233.70" y1="249.36" x2="236.70" y2="249.36" stroke="#2a2a2a" stroke-width="1.1"/>
<text x="230.50" y="251.66" font-size="6.4" fill="#4e4e4e" stroke="#4e4e4e" stroke-width="0.15" text-anchor="end">100000</text>
<line x1="233.70" y1="235.42" x2="236.70" y2="235.42" stroke="#2a2a2a" stroke-width="1.1"/>
<text x="230.50" y="237.72" font-size="6.4" fill="#4e4e4e" stroke="#4e4e4e" stroke-width="0.15" text-anchor="end">200000</text>
<line x1="233.70" y1="221.48" x2="236.70" y2="221.48" stroke="#2a2a2a" stroke-width="1.1"/>
<text x="230.50" y="223.78" font-size="6.4" fill="#4e4e4e" stroke="#4e4e4e" stroke-width="0.15" text-anchor="end">300000</text>
<line x1="233.70" y1="207.54" x2="236.70" y2="207.54" stroke="#2a2a2a" stroke-width="1.1"/>
<text x="230.50" y="209.84" font-size="6.4" fill="#4e4e4e" stroke="#4e4e4e" stroke-width="0.15" text-anchor="end">400000</text>
<line x1="233.70" y1="193.60" x2="236.70" y2="193.60" stroke="#2a2a2a" stroke-width="1.1"/>
<text x="230.50" y="195.90" font-size="6.4" fill="#4e4e4e" stroke="#4e4e4e" stroke-width="0.15" text-anchor="end">500000</text>
<line x1="236.10" y1="263.30" x2="299.00" y2="263.30" stroke="#2a2a2a" stroke-width="1.1"/>
<line x1="246.20" y1="263.30" x2="246.20" y2="265.70" stroke="#2a2a2a" stroke-width="1"/>
<line x1="269.00" y1="263.30" x2="269.00" y2="265.70" stroke="#2a2a2a" stroke-width="1"/>
<line x1="291.60" y1="263.30" x2="291.60" y2="265.70" stroke="#2a2a2a" stroke-width="1"/>
<line x1="241.70" y1="198.60" x2="250.90" y2="198.60" stroke="#333" stroke-width="0.9"/>
<line x1="241.70" y1="197.20" x2="241.70" y2="200.00" stroke="#333" stroke-width="0.9"/>
<line x1="250.90" y1="197.20" x2="250.90" y2="200.00" stroke="#333" stroke-width="0.9"/>
<text x="246.30" y="200.00" font-size="7.4" fill="#333" stroke="#333" stroke-width="0.05" text-anchor="middle" font-weight="bold">*</text>
<line x1="241.70" y1="213.50" x2="241.70" y2="235.00" stroke="#cf4e70" stroke-width="0.7"/>
<line x1="239.80" y1="213.50" x2="243.60" y2="213.50" stroke="#cf4e70" stroke-width="0.7"/>
<line x1="239.80" y1="235.00" x2="243.60" y2="235.00" stroke="#cf4e70" stroke-width="0.7"/>
<circle cx="241.70" cy="204.80" r="1.15" fill="#921034"/>
<circle cx="241.70" cy="224.00" r="1.15" fill="#921034"/>
<circle cx="241.70" cy="242.00" r="1.15" fill="#921034"/>
<line x1="237.70" y1="224.60" x2="245.70" y2="224.60" stroke="#2a2226" stroke-width="0.9"/>
<rect x="248.10" y="254.40" width="2.40" height="2.40" fill="#36104c"/>
<rect x="250.40" y="253.40" width="2.40" height="2.40" fill="#36104c"/>
<rect x="252.20" y="253.80" width="2.40" height="2.40" fill="#36104c"/>
<line x1="247.90" y1="255.00" x2="253.90" y2="255.00" stroke="#1e1430" stroke-width="0.9"/>
<line x1="265.00" y1="235.30" x2="273.70" y2="235.30" stroke="#333" stroke-width="0.9"/>
<line x1="265.00" y1="233.90" x2="265.00" y2="236.70" stroke="#333" stroke-width="0.9"/>
<line x1="273.70" y1="233.90" x2="273.70" y2="236.70" stroke="#333" stroke-width="0.9"/>
<text x="269.35" y="236.70" font-size="7.4" fill="#333" stroke="#333" stroke-width="0.05" text-anchor="middle" font-weight="bold">**</text>
<line x1="265.00" y1="247.00" x2="265.00" y2="254.40" stroke="#cf4e70" stroke-width="0.7"/>
<line x1="263.10" y1="247.00" x2="266.90" y2="247.00" stroke="#cf4e70" stroke-width="0.7"/>
<line x1="263.10" y1="254.40" x2="266.90" y2="254.40" stroke="#cf4e70" stroke-width="0.7"/>
<circle cx="265.00" cy="243.20" r="1.15" fill="#921034"/>
<circle cx="265.00" cy="252.00" r="1.15" fill="#921034"/>
<circle cx="265.00" cy="255.60" r="1.15" fill="#921034"/>
<line x1="261.00" y1="250.70" x2="269.00" y2="250.70" stroke="#2a2226" stroke-width="0.9"/>
<rect x="270.25" y="259.65" width="2.30" height="2.30" fill="#36104c"/>
<rect x="272.25" y="259.05" width="2.30" height="2.30" fill="#36104c"/>
<rect x="274.25" y="259.45" width="2.30" height="2.30" fill="#36104c"/>
<line x1="270.20" y1="260.60" x2="276.20" y2="260.60" stroke="#1e1430" stroke-width="0.9"/>
<line x1="287.30" y1="249.00" x2="295.50" y2="249.00" stroke="#333" stroke-width="0.9"/>
<line x1="287.30" y1="247.60" x2="287.30" y2="250.40" stroke="#333" stroke-width="0.9"/>
<line x1="295.50" y1="247.60" x2="295.50" y2="250.40" stroke="#333" stroke-width="0.9"/>
<text x="291.40" y="250.40" font-size="7.4" fill="#333" stroke="#333" stroke-width="0.05" text-anchor="middle" font-weight="bold">**</text>
<circle cx="286.60" cy="256.40" r="1.15" fill="#921034"/>
<circle cx="288.40" cy="257.00" r="1.15" fill="#921034"/>
<circle cx="287.30" cy="259.40" r="1.15" fill="#921034"/>
<line x1="283.30" y1="257.80" x2="291.30" y2="257.80" stroke="#2a2226" stroke-width="0.9"/>
<rect x="292.70" y="260.90" width="2.20" height="2.20" fill="#36104c"/>
<rect x="294.70" y="260.50" width="2.20" height="2.20" fill="#36104c"/>
<rect x="296.70" y="260.90" width="2.20" height="2.20" fill="#36104c"/>
<line x1="293.00" y1="261.80" x2="298.00" y2="261.80" stroke="#1e1430" stroke-width="0.9"/>
<text x="245.90" y="275.20" font-size="6.8" fill="#444" stroke="#444" stroke-width="0.15" text-anchor="middle" textLength="14.80" lengthAdjust="spacingAndGlyphs">GMP</text>
<text x="268.60" y="275.20" font-size="6.8" fill="#444" stroke="#444" stroke-width="0.15" text-anchor="middle" textLength="14.20" lengthAdjust="spacingAndGlyphs">CMP</text>
<text x="292.20" y="275.20" font-size="6.8" fill="#444" stroke="#444" stroke-width="0.15" text-anchor="middle" textLength="13.20" lengthAdjust="spacingAndGlyphs">MEP</text>
<text x="313.60" y="172.80" font-size="11.5" fill="#111" stroke="#111" stroke-width="0.45" font-weight="bold">G</text>
<line x1="372.30" y1="179.80" x2="471.80" y2="179.80" stroke="#8a8a8a" stroke-width="1.0"/>
<text x="422.05" y="175.40" font-size="8.6" fill="#333" stroke="#333" stroke-width="0.15" text-anchor="middle" textLength="15.00" lengthAdjust="spacingAndGlyphs">8wk</text>
<line x1="347.90" y1="191.60" x2="347.90" y2="262.80" stroke="#2a2a2a" stroke-width="1.1"/>
<line x1="344.90" y1="262.80" x2="347.90" y2="262.80" stroke="#2a2a2a" stroke-width="1.1"/>
<text x="342.50" y="265.03" font-size="6.2" fill="#4e4e4e" stroke="#4e4e4e" stroke-width="0.15" text-anchor="end">0</text>
<line x1="344.90" y1="239.94" x2="347.90" y2="239.94" stroke="#2a2a2a" stroke-width="1.1"/>
<text x="342.50" y="242.17" font-size="6.2" fill="#4e4e4e" stroke="#4e4e4e" stroke-width="0.15" text-anchor="end">5000</text>
<line x1="344.90" y1="217.07" x2="347.90" y2="217.07" stroke="#2a2a2a" stroke-width="1.1"/>
<text x="342.50" y="219.30" font-size="6.2" fill="#4e4e4e" stroke="#4e4e4e" stroke-width="0.15" text-anchor="end">10000</text>
<line x1="344.90" y1="194.21" x2="347.90" y2="194.21" stroke="#2a2a2a" stroke-width="1.1"/>
<text x="342.50" y="196.44" font-size="6.2" fill="#4e4e4e" stroke="#4e4e4e" stroke-width="0.15" text-anchor="end">15000</text>
<line x1="347.30" y1="262.80" x2="414.00" y2="262.80" stroke="#2a2a2a" stroke-width="1.1"/>
<line x1="365.40" y1="262.80" x2="365.40" y2="265.20" stroke="#2a2a2a" stroke-width="1"/>
<line x1="399.60" y1="262.80" x2="399.60" y2="265.20" stroke="#2a2a2a" stroke-width="1"/>
<text x="319.70" y="225.60" font-size="8.6" fill="#444" stroke="#444" stroke-width="0.15" text-anchor="middle" textLength="53.20" lengthAdjust="spacingAndGlyphs" transform="rotate(-90 319.70 225.60)">Absolute number</text>
<line x1="359.00" y1="193.00" x2="372.00" y2="193.00" stroke="#333" stroke-width="0.9"/>
<line x1="359.00" y1="191.60" x2="359.00" y2="194.40" stroke="#333" stroke-width="0.9"/>
<line x1="372.00" y1="191.60" x2="372.00" y2="194.40" stroke="#333" stroke-width="0.9"/>
<text x="365.50" y="194.40" font-size="7.4" fill="#333" stroke="#333" stroke-width="0.05" text-anchor="middle" font-weight="bold">***</text>
<line x1="359.00" y1="200.10" x2="359.00" y2="214.30" stroke="#cf4e70" stroke-width="0.7"/>
<line x1="357.10" y1="200.10" x2="360.90" y2="200.10" stroke="#cf4e70" stroke-width="0.7"/>
<line x1="357.10" y1="214.30" x2="360.90" y2="214.30" stroke="#cf4e70" stroke-width="0.7"/>
<circle cx="359.00" cy="200.10" r="1.15" fill="#921034"/>
<circle cx="359.00" cy="214.30" r="1.15" fill="#921034"/>
<line x1="355.00" y1="207.20" x2="363.00" y2="207.20" stroke="#2a2226" stroke-width="0.9"/>
<line x1="372.00" y1="237.30" x2="372.00" y2="248.60" stroke="#665878" stroke-width="0.7"/>
<line x1="370.10" y1="237.30" x2="373.90" y2="237.30" stroke="#665878" stroke-width="0.7"/>
<line x1="370.10" y1="248.60" x2="373.90" y2="248.60" stroke="#665878" stroke-width="0.7"/>
<rect x="370.55" y="231.05" width="2.90" height="2.90" fill="#36104c"/>
<rect x="370.55" y="241.25" width="2.90" height="2.90" fill="#36104c"/>
<rect x="370.55" y="251.85" width="2.90" height="2.90" fill="#36104c"/>
<line x1="368.00" y1="242.70" x2="376.00" y2="242.70" stroke="#1e1430" stroke-width="0.9"/>
<line x1="394.70" y1="230.90" x2="407.00" y2="230.90" stroke="#333" stroke-width="0.9"/>
<line x1="394.70" y1="229.50" x2="394.70" y2="232.30" stroke="#333" stroke-width="0.9"/>
<line x1="407.00" y1="229.50" x2="407.00" y2="232.30" stroke="#333" stroke-width="0.9"/>
<text x="400.85" y="232.30" font-size="7.4" fill="#333" stroke="#333" stroke-width="0.05" text-anchor="middle" font-weight="bold">*</text>
<circle cx="393.30" cy="239.10" r="1.15" fill="#921034"/>
<circle cx="393.30" cy="246.20" r="1.15" fill="#921034"/>
<line x1="389.30" y1="242.70" x2="397.30" y2="242.70" stroke="#2a2226" stroke-width="0.9"/>
<rect x="401.65" y="260.85" width="2.30" height="2.30" fill="#36104c"/>
<rect x="404.05" y="260.45" width="2.30" height="2.30" fill="#36104c"/>
<rect x="406.45" y="260.65" width="2.30" height="2.30" fill="#36104c"/>
<rect x="408.85" y="260.45" width="2.30" height="2.30" fill="#36104c"/>
<line x1="403.50" y1="261.80" x2="409.50" y2="261.80" stroke="#1e1430" stroke-width="0.9"/>
<text x="365.40" y="274.80" font-size="6.8" fill="#444" stroke="#444" stroke-width="0.15" text-anchor="middle" textLength="21.70" lengthAdjust="spacingAndGlyphs">LT-HSC</text>
<text x="399.20" y="274.80" font-size="6.8" fill="#444" stroke="#444" stroke-width="0.15" text-anchor="middle" textLength="22.50" lengthAdjust="spacingAndGlyphs">ST-HSC</text>
<line x1="446.90" y1="191.40" x2="446.90" y2="263.80" stroke="#2a2a2a" stroke-width="1.1"/>
<line x1="443.90" y1="263.80" x2="446.90" y2="263.80" stroke="#2a2a2a" stroke-width="1.1"/>
<text x="440.70" y="266.10" font-size="6.4" fill="#4e4e4e" stroke="#4e4e4e" stroke-width="0.15" text-anchor="end">0</text>
<line x1="443.90" y1="246.35" x2="446.90" y2="246.35" stroke="#2a2a2a" stroke-width="1.1"/>
<text x="440.70" y="248.65" font-size="6.4" fill="#4e4e4e" stroke="#4e4e4e" stroke-width="0.15" text-anchor="end">100000</text>
<line x1="443.90" y1="228.90" x2="446.90" y2="228.90" stroke="#2a2a2a" stroke-width="1.1"/>
<text x="440.70" y="231.20" font-size="6.4" fill="#4e4e4e" stroke="#4e4e4e" stroke-width="0.15" text-anchor="end">200000</text>
<line x1="443.90" y1="211.45" x2="446.90" y2="211.45" stroke="#2a2a2a" stroke-width="1.1"/>
<text x="440.70" y="213.75" font-size="6.4" fill="#4e4e4e" stroke="#4e4e4e" stroke-width="0.15" text-anchor="end">300000</text>
<line x1="443.90" y1="194.00" x2="446.90" y2="194.00" stroke="#2a2a2a" stroke-width="1.1"/>
<text x="440.70" y="196.30" font-size="6.4" fill="#4e4e4e" stroke="#4e4e4e" stroke-width="0.15" text-anchor="end">400000</text>
<line x1="446.30" y1="263.80" x2="512.60" y2="263.80" stroke="#2a2a2a" stroke-width="1.1"/>
<line x1="457.50" y1="263.80" x2="457.50" y2="266.20" stroke="#2a2a2a" stroke-width="1"/>
<line x1="480.00" y1="263.80" x2="480.00" y2="266.20" stroke="#2a2a2a" stroke-width="1"/>
<line x1="503.20" y1="263.80" x2="503.20" y2="266.20" stroke="#2a2a2a" stroke-width="1"/>
<line x1="453.00" y1="206.20" x2="462.00" y2="206.20" stroke="#333" stroke-width="0.9"/>
<line x1="453.00" y1="204.80" x2="453.00" y2="207.60" stroke="#333" stroke-width="0.9"/>
<line x1="462.00" y1="204.80" x2="462.00" y2="207.60" stroke="#333" stroke-width="0.9"/>
<text x="457.50" y="207.60" font-size="7.4" fill="#333" stroke="#333" stroke-width="0.05" text-anchor="middle" font-weight="bold">*</text>
<circle cx="453.10" cy="213.30" r="1.15" fill="#921034"/>
<circle cx="453.10" cy="221.80" r="1.15" fill="#921034"/>
<line x1="449.10" y1="217.60" x2="457.10" y2="217.60" stroke="#2a2226" stroke-width="0.9"/>
<line x1="461.90" y1="246.50" x2="461.90" y2="257.80" stroke="#665878" stroke-width="0.7"/>
<line x1="460.00" y1="246.50" x2="463.80" y2="246.50" stroke="#665878" stroke-width="0.7"/>
<line x1="460.00" y1="257.80" x2="463.80" y2="257.80" stroke="#665878" stroke-width="0.7"/>
<rect x="460.45" y="245.05" width="2.90" height="2.90" fill="#36104c"/>
<rect x="460.45" y="250.65" width="2.90" height="2.90" fill="#36104c"/>
<rect x="460.45" y="259.25" width="2.90" height="2.90" fill="#36104c"/>
<line x1="457.90" y1="252.10" x2="465.90" y2="252.10" stroke="#1e1430" stroke-width="0.9"/>
<line x1="476.00" y1="244.20" x2="484.50" y2="244.20" stroke="#333" stroke-width="0.9"/>
<line x1="476.00" y1="242.80" x2="476.00" y2="245.60" stroke="#333" stroke-width="0.9"/>
<line x1="484.50" y1="242.80" x2="484.50" y2="245.60" stroke="#333" stroke-width="0.9"/>
<text x="480.25" y="245.60" font-size="7.4" fill="#333" stroke="#333" stroke-width="0.05" text-anchor="middle" font-weight="bold">**</text>
<circle cx="474.40" cy="251.20" r="1.15" fill="#921034"/>
<circle cx="476.00" cy="250.40" r="1.15" fill="#921034"/>
<circle cx="477.40" cy="250.00" r="1.15" fill="#921034"/>
<line x1="473.30" y1="250.70" x2="478.30" y2="250.70" stroke="#2a2226" stroke-width="0.9"/>
<rect x="481.50" y="260.50" width="2.20" height="2.20" fill="#36104c"/>
<rect x="483.50" y="259.90" width="2.20" height="2.20" fill="#36104c"/>
<rect x="485.30" y="260.50" width="2.20" height="2.20" fill="#36104c"/>
<line x1="481.80" y1="261.50" x2="486.80" y2="261.50" stroke="#1e1430" stroke-width="0.9"/>
<line x1="498.00" y1="248.50" x2="508.00" y2="248.50" stroke="#333" stroke-width="0.9"/>
<line x1="498.00" y1="247.10" x2="498.00" y2="249.90" stroke="#333" stroke-width="0.9"/>
<line x1="508.00" y1="247.10" x2="508.00" y2="249.90" stroke="#333" stroke-width="0.9"/>
<text x="503.00" y="249.90" font-size="7.4" fill="#333" stroke="#333" stroke-width="0.05" text-anchor="middle" font-weight="bold">**</text>
<circle cx="497.40" cy="255.80" r="1.15" fill="#921034"/>
<circle cx="499.00" cy="255.20" r="1.15" fill="#921034"/>
<circle cx="500.40" cy="254.80" r="1.15" fill="#921034"/>
<line x1="496.00" y1="255.40" x2="501.00" y2="255.40" stroke="#2a2226" stroke-width="0.9"/>
<rect x="505.10" y="260.90" width="2.20" height="2.20" fill="#36104c"/>
<rect x="507.10" y="260.50" width="2.20" height="2.20" fill="#36104c"/>
<rect x="508.90" y="260.90" width="2.20" height="2.20" fill="#36104c"/>
<line x1="505.30" y1="261.90" x2="510.30" y2="261.90" stroke="#1e1430" stroke-width="0.9"/>
<text x="456.80" y="275.00" font-size="6.8" fill="#444" stroke="#444" stroke-width="0.15" text-anchor="middle" textLength="14.20" lengthAdjust="spacingAndGlyphs">GMP</text>
<text x="479.80" y="275.00" font-size="6.8" fill="#444" stroke="#444" stroke-width="0.15" text-anchor="middle" textLength="13.60" lengthAdjust="spacingAndGlyphs">CMP</text>
<text x="502.40" y="275.00" font-size="6.8" fill="#444" stroke="#444" stroke-width="0.15" text-anchor="middle" textLength="14.80" lengthAdjust="spacingAndGlyphs">MEP</text>
<text x="7.90" y="302.90" font-size="11.5" fill="#111" stroke="#111" stroke-width="0.45" font-weight="bold">H</text>
<line x1="70.90" y1="309.20" x2="155.60" y2="309.20" stroke="#8a8a8a" stroke-width="1.0"/>
<text x="113.25" y="304.80" font-size="8.6" fill="#333" stroke="#333" stroke-width="0.15" text-anchor="middle" textLength="20.10" lengthAdjust="spacingAndGlyphs">12wk</text>
<line x1="46.60" y1="321.00" x2="46.60" y2="392.90" stroke="#2a2a2a" stroke-width="1.1"/>
<line x1="43.60" y1="392.90" x2="46.60" y2="392.90" stroke="#2a2a2a" stroke-width="1.1"/>
<text x="41.20" y="395.17" font-size="6.3" fill="#4e4e4e" stroke="#4e4e4e" stroke-width="0.15" text-anchor="end">0</text>
<line x1="43.60" y1="379.02" x2="46.60" y2="379.02" stroke="#2a2a2a" stroke-width="1.1"/>
<text x="41.20" y="381.29" font-size="6.3" fill="#4e4e4e" stroke="#4e4e4e" stroke-width="0.15" text-anchor="end">2000</text>
<line x1="43.60" y1="365.14" x2="46.60" y2="365.14" stroke="#2a2a2a" stroke-width="1.1"/>
<text x="41.20" y="367.41" font-size="6.3" fill="#4e4e4e" stroke="#4e4e4e" stroke-width="0.15" text-anchor="end">4000</text>
<line x1="43.60" y1="351.26" x2="46.60" y2="351.26" stroke="#2a2a2a" stroke-width="1.1"/>
<text x="41.20" y="353.53" font-size="6.3" fill="#4e4e4e" stroke="#4e4e4e" stroke-width="0.15" text-anchor="end">6000</text>
<line x1="43.60" y1="337.38" x2="46.60" y2="337.38" stroke="#2a2a2a" stroke-width="1.1"/>
<text x="41.20" y="339.65" font-size="6.3" fill="#4e4e4e" stroke="#4e4e4e" stroke-width="0.15" text-anchor="end">8000</text>
<line x1="43.60" y1="323.50" x2="46.60" y2="323.50" stroke="#2a2a2a" stroke-width="1.1"/>
<text x="41.20" y="325.77" font-size="6.3" fill="#4e4e4e" stroke="#4e4e4e" stroke-width="0.15" text-anchor="end">10000</text>
<line x1="46.00" y1="392.90" x2="107.50" y2="392.90" stroke="#2a2a2a" stroke-width="1.1"/>
<line x1="61.00" y1="392.90" x2="61.00" y2="395.30" stroke="#2a2a2a" stroke-width="1"/>
<line x1="93.80" y1="392.90" x2="93.80" y2="395.30" stroke="#2a2a2a" stroke-width="1"/>
<text x="17.80" y="356.00" font-size="8.6" fill="#444" stroke="#444" stroke-width="0.15" text-anchor="middle" textLength="52.70" lengthAdjust="spacingAndGlyphs" transform="rotate(-90 17.80 356.00)">Absolute number</text>
<line x1="55.80" y1="322.50" x2="68.00" y2="322.50" stroke="#333" stroke-width="0.9"/>
<line x1="55.80" y1="321.10" x2="55.80" y2="323.90" stroke="#333" stroke-width="0.9"/>
<line x1="68.00" y1="321.10" x2="68.00" y2="323.90" stroke="#333" stroke-width="0.9"/>
<text x="61.90" y="323.90" font-size="7.4" fill="#333" stroke="#333" stroke-width="0.05" text-anchor="middle" font-weight="bold">*</text>
<line x1="55.40" y1="328.80" x2="55.40" y2="346.90" stroke="#cf4e70" stroke-width="0.7"/>
<line x1="53.50" y1="328.80" x2="57.30" y2="328.80" stroke="#cf4e70" stroke-width="0.7"/>
<line x1="53.50" y1="346.90" x2="57.30" y2="346.90" stroke="#cf4e70" stroke-width="0.7"/>
<circle cx="52.00" cy="327.80" r="1.15" fill="#921034"/>
<circle cx="58.20" cy="328.80" r="1.15" fill="#921034"/>
<circle cx="55.20" cy="356.20" r="1.15" fill="#921034"/>
<line x1="51.40" y1="337.60" x2="59.40" y2="337.60" stroke="#2a2226" stroke-width="0.9"/>
<line x1="67.30" y1="364.60" x2="67.30" y2="371.00" stroke="#665878" stroke-width="0.7"/>
<line x1="65.40" y1="364.60" x2="69.20" y2="364.60" stroke="#665878" stroke-width="0.7"/>
<line x1="65.40" y1="371.00" x2="69.20" y2="371.00" stroke="#665878" stroke-width="0.7"/>
<rect x="65.85" y="362.55" width="2.90" height="2.90" fill="#36104c"/>
<rect x="65.85" y="369.95" width="2.90" height="2.90" fill="#36104c"/>
<line x1="63.30" y1="368.10" x2="71.30" y2="368.10" stroke="#1e1430" stroke-width="0.9"/>
<line x1="87.70" y1="354.50" x2="100.00" y2="354.50" stroke="#333" stroke-width="0.9"/>
<line x1="87.70" y1="353.10" x2="87.70" y2="355.90" stroke="#333" stroke-width="0.9"/>
<line x1="100.00" y1="353.10" x2="100.00" y2="355.90" stroke="#333" stroke-width="0.9"/>
<text x="93.85" y="353.20" font-size="6.0" fill="#333" stroke="#333" stroke-width="0.15" text-anchor="middle">NS</text>
<line x1="87.70" y1="367.30" x2="87.70" y2="381.30" stroke="#cf4e70" stroke-width="0.7"/>
<line x1="85.80" y1="367.30" x2="89.60" y2="367.30" stroke="#cf4e70" stroke-width="0.7"/>
<line x1="85.80" y1="381.30" x2="89.60" y2="381.30" stroke="#cf4e70" stroke-width="0.7"/>
<circle cx="87.70" cy="360.60" r="1.15" fill="#921034"/>
<circle cx="87.70" cy="378.00" r="1.15" fill="#921034"/>
<circle cx="87.70" cy="384.30" r="1.15" fill="#921034"/>
<line x1="83.70" y1="374.40" x2="91.70" y2="374.40" stroke="#2a2226" stroke-width="0.9"/>
<rect x="95.85" y="391.25" width="2.30" height="2.30" fill="#36104c"/>
<rect x="98.35" y="391.05" width="2.30" height="2.30" fill="#36104c"/>
<rect x="100.85" y="390.25" width="2.30" height="2.30" fill="#36104c"/>
<line x1="96.90" y1="392.20" x2="101.90" y2="392.20" stroke="#1e1430" stroke-width="0.9"/>
<text x="61.00" y="405.20" font-size="6.8" fill="#444" stroke="#444" stroke-width="0.15" text-anchor="middle" textLength="21.00" lengthAdjust="spacingAndGlyphs">LT-HSC</text>
<text x="93.80" y="405.20" font-size="6.8" fill="#444" stroke="#444" stroke-width="0.15" text-anchor="middle" textLength="22.00" lengthAdjust="spacingAndGlyphs">ST-HSC</text>
<line x1="150.80" y1="321.30" x2="150.80" y2="393.10" stroke="#2a2a2a" stroke-width="1.1"/>
<line x1="147.80" y1="393.10" x2="150.80" y2="393.10" stroke="#2a2a2a" stroke-width="1.1"/>
<text x="144.60" y="395.40" font-size="6.4" fill="#4e4e4e" stroke="#4e4e4e" stroke-width="0.15" text-anchor="end">0</text>
<line x1="147.80" y1="379.24" x2="150.80" y2="379.24" stroke="#2a2a2a" stroke-width="1.1"/>
<text x="144.60" y="381.54" font-size="6.4" fill="#4e4e4e" stroke="#4e4e4e" stroke-width="0.15" text-anchor="end">50000</text>
<line x1="147.80" y1="365.38" x2="150.80" y2="365.38" stroke="#2a2a2a" stroke-width="1.1"/>
<text x="144.60" y="367.68" font-size="6.4" fill="#4e4e4e" stroke="#4e4e4e" stroke-width="0.15" text-anchor="end">100000</text>
<line x1="147.80" y1="351.52" x2="150.80" y2="351.52" stroke="#2a2a2a" stroke-width="1.1"/>
<text x="144.60" y="353.82" font-size="6.4" fill="#4e4e4e" stroke="#4e4e4e" stroke-width="0.15" text-anchor="end">150000</text>
<line x1="147.80" y1="337.66" x2="150.80" y2="337.66" stroke="#2a2a2a" stroke-width="1.1"/>
<text x="144.60" y="339.96" font-size="6.4" fill="#4e4e4e" stroke="#4e4e4e" stroke-width="0.15" text-anchor="end">200000</text>
<line x1="147.80" y1="323.80" x2="150.80" y2="323.80" stroke="#2a2a2a" stroke-width="1.1"/>
<text x="144.60" y="326.10" font-size="6.4" fill="#4e4e4e" stroke="#4e4e4e" stroke-width="0.15" text-anchor="end">250000</text>
<line x1="150.20" y1="393.10" x2="215.00" y2="393.10" stroke="#2a2a2a" stroke-width="1.1"/>
<line x1="161.20" y1="393.10" x2="161.20" y2="395.50" stroke="#2a2a2a" stroke-width="1"/>
<line x1="183.80" y1="393.10" x2="183.80" y2="395.50" stroke="#2a2a2a" stroke-width="1"/>
<line x1="205.40" y1="393.10" x2="205.40" y2="395.50" stroke="#2a2a2a" stroke-width="1"/>
<line x1="156.70" y1="322.20" x2="165.70" y2="322.20" stroke="#333" stroke-width="0.9"/>
<line x1="156.70" y1="320.80" x2="156.70" y2="323.60" stroke="#333" stroke-width="0.9"/>
<line x1="165.70" y1="320.80" x2="165.70" y2="323.60" stroke="#333" stroke-width="0.9"/>
<text x="161.20" y="323.60" font-size="7.4" fill="#333" stroke="#333" stroke-width="0.05" text-anchor="middle" font-weight="bold">*</text>
<line x1="156.70" y1="330.00" x2="156.70" y2="341.00" stroke="#cf4e70" stroke-width="0.7"/>
<line x1="154.80" y1="330.00" x2="158.60" y2="330.00" stroke="#cf4e70" stroke-width="0.7"/>
<line x1="154.80" y1="341.00" x2="158.60" y2="341.00" stroke="#cf4e70" stroke-width="0.7"/>
<circle cx="156.70" cy="328.80" r="1.15" fill="#921034"/>
<circle cx="156.70" cy="331.60" r="1.15" fill="#921034"/>
<circle cx="156.70" cy="341.10" r="1.15" fill="#921034"/>
<line x1="152.70" y1="335.20" x2="160.70" y2="335.20" stroke="#2a2226" stroke-width="0.9"/>
<line x1="165.70" y1="357.60" x2="165.70" y2="367.60" stroke="#665878" stroke-width="0.7"/>
<line x1="163.80" y1="357.60" x2="167.60" y2="357.60" stroke="#665878" stroke-width="0.7"/>
<line x1="163.80" y1="367.60" x2="167.60" y2="367.60" stroke="#665878" stroke-width="0.7"/>
<rect x="164.25" y="355.55" width="2.90" height="2.90" fill="#36104c"/>
<rect x="164.25" y="366.85" width="2.90" height="2.90" fill="#36104c"/>
<line x1="161.70" y1="362.40" x2="169.70" y2="362.40" stroke="#1e1430" stroke-width="0.9"/>
<line x1="179.70" y1="352.40" x2="189.40" y2="352.40" stroke="#333" stroke-width="0.9"/>
<line x1="179.70" y1="351.00" x2="179.70" y2="353.80" stroke="#333" stroke-width="0.9"/>
<line x1="189.40" y1="351.00" x2="189.40" y2="353.80" stroke="#333" stroke-width="0.9"/>
<text x="184.55" y="353.80" font-size="7.4" fill="#333" stroke="#333" stroke-width="0.05" text-anchor="middle" font-weight="bold">*</text>
<line x1="179.70" y1="364.00" x2="179.70" y2="374.00" stroke="#cf4e70" stroke-width="0.7"/>
<line x1="177.80" y1="364.00" x2="181.60" y2="364.00" stroke="#cf4e70" stroke-width="0.7"/>
<line x1="177.80" y1="374.00" x2="181.60" y2="374.00" stroke="#cf4e70" stroke-width="0.7"/>
<circle cx="179.70" cy="361.90" r="1.15" fill="#921034"/>
<circle cx="179.70" cy="368.30" r="1.15" fill="#921034"/>
<circle cx="179.70" cy="376.60" r="1.15" fill="#921034"/>
<line x1="175.70" y1="369.00" x2="183.70" y2="369.00" stroke="#2a2226" stroke-width="0.9"/>
<rect x="183.95" y="385.35" width="2.90" height="2.90" fill="#36104c"/>
<rect x="186.75" y="384.75" width="2.90" height="2.90" fill="#36104c"/>
<line x1="187.30" y1="386.50" x2="187.50" y2="386.50" stroke="#1e1430" stroke-width="0.9"/>
<line x1="201.50" y1="372.30" x2="210.20" y2="372.30" stroke="#333" stroke-width="0.9"/>
<line x1="201.50" y1="370.90" x2="201.50" y2="373.70" stroke="#333" stroke-width="0.9"/>
<line x1="210.20" y1="370.90" x2="210.20" y2="373.70" stroke="#333" stroke-width="0.9"/>
<text x="205.85" y="371.00" font-size="6.0" fill="#333" stroke="#333" stroke-width="0.15" text-anchor="middle">NS</text>
<circle cx="200.60" cy="383.80" r="1.15" fill="#921034"/>
<circle cx="202.40" cy="384.20" r="1.15" fill="#921034"/>
<circle cx="201.50" cy="386.50" r="1.15" fill="#921034"/>
<line x1="197.50" y1="386.20" x2="205.50" y2="386.20" stroke="#2a2226" stroke-width="0.9"/>
<line x1="210.20" y1="381.00" x2="210.20" y2="386.60" stroke="#665878" stroke-width="0.7"/>
<line x1="208.30" y1="381.00" x2="212.10" y2="381.00" stroke="#665878" stroke-width="0.7"/>
<line x1="208.30" y1="386.60" x2="212.10" y2="386.60" stroke="#665878" stroke-width="0.7"/>
<rect x="208.75" y="378.95" width="2.90" height="2.90" fill="#36104c"/>
<rect x="208.75" y="385.65" width="2.90" height="2.90" fill="#36104c"/>
<line x1="206.20" y1="384.60" x2="214.20" y2="384.60" stroke="#1e1430" stroke-width="0.9"/>
<text x="161.30" y="405.00" font-size="6.8" fill="#444" stroke="#444" stroke-width="0.15" text-anchor="middle" textLength="15.00" lengthAdjust="spacingAndGlyphs">GMP</text>
<text x="183.80" y="405.00" font-size="6.8" fill="#444" stroke="#444" stroke-width="0.15" text-anchor="middle" textLength="14.50" lengthAdjust="spacingAndGlyphs">CMP</text>
<text x="206.40" y="405.00" font-size="6.8" fill="#444" stroke="#444" stroke-width="0.15" text-anchor="middle" textLength="15.30" lengthAdjust="spacingAndGlyphs">MEP</text>
<circle cx="223.00" cy="352.00" r="1.1" fill="#921034"/>
<text x="228.00" y="354.50" font-size="6.8" fill="#c8283c" stroke="#c8283c" stroke-width="0.15" textLength="8.20" lengthAdjust="spacingAndGlyphs">WT</text>
<rect x="222.40" y="360.90" width="2.40" height="2.40" fill="#36104c"/>
<text x="228.00" y="364.60" font-size="6.8" fill="#66508a" stroke="#66508a" stroke-width="0.15" textLength="29.70" lengthAdjust="spacingAndGlyphs">Prmt1KO</text>
<text x="276.90" y="303.00" font-size="11.5" fill="#111" stroke="#111" stroke-width="0.45" font-weight="bold">I</text>
<rect x="312.7" y="315.0" width="67.5" height="73.9" fill="none" stroke="#2a2a2a" stroke-width="1.3"/>
<line x1="309.80" y1="318.40" x2="312.70" y2="318.40" stroke="#2a2a2a" stroke-width="1"/>
<line x1="309.80" y1="386.20" x2="312.70" y2="386.20" stroke="#2a2a2a" stroke-width="1"/>
<text x="306.40" y="320.60" font-size="6.6" fill="#4e4e4e" stroke="#4e4e4e" stroke-width="0.15" text-anchor="end">0</text>
<text x="306.60" y="388.50" font-size="6.6" fill="#4e4e4e" stroke="#4e4e4e" stroke-width="0.15" text-anchor="end" textLength="10.80" lengthAdjust="spacingAndGlyphs">−3.0</text>
<line x1="320.40" y1="388.90" x2="320.40" y2="391.40" stroke="#2a2a2a" stroke-width="1"/>
<text x="320.40" y="401.30" font-size="6.8" fill="#4e4e4e" stroke="#4e4e4e" stroke-width="0.15" text-anchor="middle">2</text>
<line x1="333.80" y1="388.90" x2="333.80" y2="391.40" stroke="#2a2a2a" stroke-width="1"/>
<text x="333.80" y="401.30" font-size="6.8" fill="#4e4e4e" stroke="#4e4e4e" stroke-width="0.15" text-anchor="middle">4</text>
<line x1="346.90" y1="388.90" x2="346.90" y2="391.40" stroke="#2a2a2a" stroke-width="1"/>
<text x="346.90" y="401.30" font-size="6.8" fill="#4e4e4e" stroke="#4e4e4e" stroke-width="0.15" text-anchor="middle">6</text>
<line x1="360.00" y1="388.90" x2="360.00" y2="391.40" stroke="#2a2a2a" stroke-width="1"/>
<text x="360.00" y="401.30" font-size="6.8" fill="#4e4e4e" stroke="#4e4e4e" stroke-width="0.15" text-anchor="middle">8</text>
<line x1="373.50" y1="388.90" x2="373.50" y2="391.40" stroke="#2a2a2a" stroke-width="1"/>
<text x="373.50" y="401.30" font-size="6.8" fill="#4e4e4e" stroke="#4e4e4e" stroke-width="0.15" text-anchor="middle">10</text>
<text x="347.00" y="413.60" font-size="8.4" fill="#444" stroke="#444" stroke-width="0.15" text-anchor="middle" textLength="49.60" lengthAdjust="spacingAndGlyphs">Cell dose (x100)</text>
<text x="289.60" y="354.50" font-size="8.6" fill="#444" stroke="#444" stroke-width="0.15" text-anchor="middle" textLength="84.00" lengthAdjust="spacingAndGlyphs" transform="rotate(-90 289.60 354.50)">Log fraction nonresponding</text>
<line x1="313.20" y1="319.60" x2="379.60" y2="334.30" stroke="#4a3070" stroke-width="0.9"/>
<line x1="313.20" y1="319.60" x2="333.90" y2="388.40" stroke="#c02048" stroke-width="0.9"/>
<text x="388.20" y="337.00" font-size="6.6" fill="#3a3a3a" stroke="#3a3a3a" stroke-width="0.15" textLength="49.50" lengthAdjust="spacingAndGlyphs">LTC-IC frequency</text>
<line x1="388.20" y1="338.20" x2="437.70" y2="338.20" stroke="#555" stroke-width="0.6"/>
<text x="388.20" y="345.20" font-size="6.6" fill="#c8283c" stroke="#c8283c" stroke-width="0.15" textLength="13.60" lengthAdjust="spacingAndGlyphs">WT –</text>
<text x="424.60" y="345.20" font-size="6.6" fill="#c8283c" stroke="#c8283c" stroke-width="0.15" textLength="16.40" lengthAdjust="spacingAndGlyphs">1/112</text>
<text x="388.20" y="352.80" font-size="6.6" fill="#66508a" stroke="#66508a" stroke-width="0.15" textLength="55.60" lengthAdjust="spacingAndGlyphs">Prmt1 KO – 1/2817</text>
</svg>
</body></html>
